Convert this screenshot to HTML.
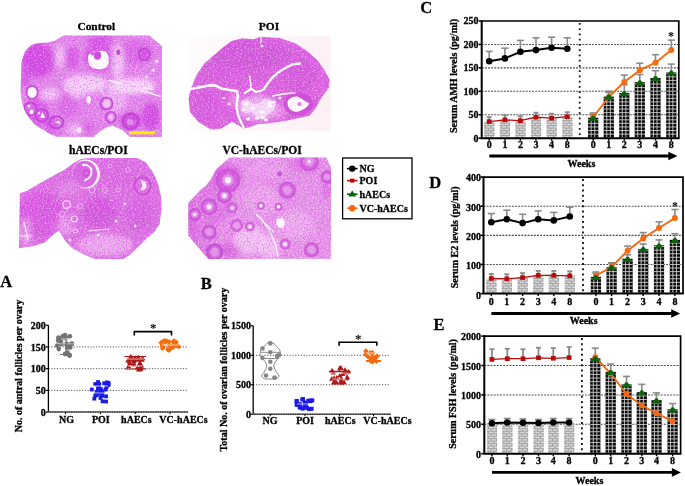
<!DOCTYPE html>
<html><head><meta charset="utf-8"><style>
html,body{margin:0;padding:0;background:#fff;}
svg{display:block}
text{font-family:'Liberation Serif',serif;font-weight:bold;fill:#000;stroke:#000;stroke-width:0.3px;paint-order:stroke}
</style></head><body>
<svg width="685" height="486" viewBox="0 0 685 486">
<rect width="685" height="486" fill="#fff"/>
<defs>
<filter id="tex" x="0" y="0" width="100%" height="100%" color-interpolation-filters="sRGB">
 <feTurbulence type="fractalNoise" baseFrequency="0.6" numOctaves="2" seed="3"/>
 <feColorMatrix type="matrix" values="0 0 0 0 1  0 0 0 0 0.88  0 0 0 0 0.98  4 0 0 0 -2.0" />
</filter>
<filter id="tex2" x="0" y="0" width="100%" height="100%" color-interpolation-filters="sRGB">
 <feTurbulence type="fractalNoise" baseFrequency="0.65" numOctaves="2" seed="9"/>
 <feColorMatrix type="matrix" values="0 0 0 0 0.8  0 0 0 0 0.1  0 0 0 0 0.76  4 0 0 0 -2.0" />
</filter>
<filter id="pinkshift" color-interpolation-filters="sRGB"><feColorMatrix type="matrix" values="0.95 0 0 0 0.05  0 0.85 0 0 0.13  0 0 0.62 0 0.38  0 0 0 1 0"/></filter>
<filter id="bl1"><feGaussianBlur stdDeviation="2.5"/></filter>
<filter id="bl2"><feGaussianBlur stdDeviation="1.2"/></filter>
<filter id="bl05"><feGaussianBlur stdDeviation="0.7"/></filter>

<clipPath id="cCtrl"><polygon points="21.5,62 22.5,59 24.8,52.2 27.5,48.5 30.4,46 33.5,44.2 37.2,43.2 47.4,42.6 54.2,40.9 57.5,39 59.9,37.5 62,36.2 64.4,35.5 149.3,35.5 161.9,46 161.9,137 130,137 127.3,134.8 122.8,130.2 112.6,125.7 107,126.9 100,131.5 93.4,137 56,136.8 48,133 44.6,130.5 38,127 33.5,123 28.5,117 25,111 22.5,104 21,97 20.6,90"/></clipPath>
<clipPath id="cPoi"><polygon points="188.6,98 191.7,86.8 196,75.7 204.7,63.3 214.6,54.7 223.2,47.3 231.9,41.1 241.7,38.6 254,39.3 260,36.7 279.7,38 295.7,43.6 306.9,51 316.7,59.6 324.1,69.5 329.5,79.4 329,87.4 321.7,97.3 315.5,108.4 309.3,115.8 292,119.5 285.9,120.7 267.3,123.5 258,124 250,127 243.8,128.5 238,125 231.9,122 220.7,128.8 210.9,129.4 198.5,122 190,112"/></clipPath>
<clipPath id="cHaec"><polygon points="19.9,193.2 27.3,190.7 39.7,183.3 52,176.5 64.4,169.8 73,163.6 80.4,159.3 89,158 137,158 145.6,162.3 153,172.2 157.9,183.3 161,196.9 161.6,210 160.9,213.4 159.6,224.1 154.2,232.1 146.2,238.8 138.2,246.8 130.1,254.8 123.4,258.9 95,258.9 84.6,254.8 72.5,248.2 64.5,240.1 59.1,230.8 53.8,234.1 44.4,242.8 32.4,246.2 19,248.2"/></clipPath>
<clipPath id="cVc"><polygon points="229.4,157.4 326.3,157.6 331,167.7 331,258.8 208.1,258.9 188.3,235.5 188.3,203.1 201,189.5 205.9,185.8 210.9,179.6 215.8,169.8"/></clipPath>
<pattern id="brick" patternUnits="userSpaceOnUse" width="6" height="5.2">
<rect width="6" height="5.2" fill="#bdbdbd"/>
<rect y="2.1" width="6" height="0.8" fill="#f2f2f2"/>
<rect y="4.7" width="6" height="0.8" fill="#f2f2f2"/>
<rect x="1" y="0" width="0.8" height="2.2" fill="#f2f2f2"/>
<rect x="4" y="2.6" width="0.8" height="2.2" fill="#f2f2f2"/>
</pattern>
<pattern id="grid" patternUnits="userSpaceOnUse" width="3.6" height="3.6">
<rect width="3.6" height="3.6" fill="#111"/>
<rect x="2.6" width="1" height="3.6" fill="#d8d8d8"/>
<rect y="2.6" width="3.6" height="1" fill="#d8d8d8"/>
</pattern>
</defs>
<linearGradient id="poibg" x1="0" y1="0" x2="1" y2="0"><stop offset="0" stop-color="#fdf4f7" stop-opacity="0.3"/><stop offset="1" stop-color="#fdf0f4"/></linearGradient>
<rect x="188" y="36" width="142.5" height="95" fill="url(#poibg)"/>
<g filter="url(#pinkshift)">
<g clip-path="url(#cCtrl)"><rect x="0" y="0" width="685" height="486" fill="#e078de"/><g filter="url(#bl1)"><ellipse cx="38" cy="60" rx="17" ry="17" fill="#d030d2" opacity="1.0"/><ellipse cx="26" cy="75" rx="5" ry="14" fill="#d236d4" opacity="0.8"/><ellipse cx="72.3" cy="57.9" rx="7" ry="12" fill="#d23cd4" opacity="0.8"/><ellipse cx="99" cy="57" rx="15" ry="15" fill="#d236d4" opacity="0.85"/><ellipse cx="100" cy="40" rx="14" ry="5" fill="#d236d4" opacity="0.8"/><ellipse cx="135" cy="52" rx="18" ry="12" fill="#d648d8" opacity="0.7"/><ellipse cx="144.3" cy="54.5" rx="6" ry="6" fill="#cc30ce" opacity="0.8"/><ellipse cx="151" cy="116.7" rx="9" ry="14" fill="#cc30ce" opacity="0.95"/><ellipse cx="130.7" cy="121.2" rx="10" ry="9" fill="#c82cca" opacity="0.95"/><ellipse cx="67.8" cy="106.5" rx="11" ry="11" fill="#d64ed8" opacity="0.7"/><ellipse cx="36" cy="112" rx="13" ry="14" fill="#d236d4" opacity="0.7"/><ellipse cx="52" cy="125" rx="9" ry="9" fill="#d236d4" opacity="0.7"/><ellipse cx="88" cy="128" rx="6" ry="6" fill="#d23cd4" opacity="0.7"/><ellipse cx="60" cy="56" rx="4" ry="12" fill="#f8d4f8" opacity="0.8"/><ellipse cx="118" cy="62" rx="6" ry="18" fill="#f8d6f8" opacity="0.8"/><ellipse cx="85" cy="84" rx="22" ry="9" fill="#fadcfa" opacity="0.9"/><ellipse cx="132" cy="86" rx="24" ry="8" fill="#fce6fc" opacity="0.9"/><ellipse cx="50" cy="94" rx="10" ry="6" fill="#f8d6f8" opacity="0.8"/><ellipse cx="78" cy="92" rx="8" ry="6" fill="#f8d6f8" opacity="0.8"/><ellipse cx="115" cy="100" rx="12" ry="12" fill="#f6ccf6" opacity="0.6"/><ellipse cx="75" cy="130" rx="7" ry="6" fill="#f8d8f8" opacity="0.7"/></g><rect x="0" y="0" width="685" height="486" filter="url(#tex)" opacity="0.45"/><rect x="0" y="0" width="685" height="486" filter="url(#tex2)" opacity="0.45"/><g filter="url(#bl05)"><path d="M88 56 L91.5 51.8 L95.5 51.6 L100.5 50.8 L106 51.5 L108.5 56 L108.7 63 L106 67.8 L100 69.5 L93 68.6 L89.2 65.5 L88 60Z" fill="#ffffff" opacity="0.98"/><ellipse cx="97.5" cy="55.5" rx="3.6" ry="4.2" fill="#c838c8" opacity="1.0"/><ellipse cx="92.5" cy="53.5" rx="2.2" ry="2" fill="#cc44cc" opacity="0.9"/><ellipse cx="32.1" cy="92.4" rx="5.6" ry="6.6" fill="none" stroke="#c030c0" stroke-width="1.5"/><ellipse cx="32.1" cy="92.4" rx="4.5" ry="5.5" fill="#ffffff" opacity="0.98"/><ellipse cx="30.4" cy="108.8" rx="6.3" ry="6.3" fill="none" stroke="#c22ec2" stroke-width="2"/><ellipse cx="31.6" cy="112" rx="2" ry="2.5" fill="#ffffff" opacity="0.9"/><ellipse cx="29" cy="106" rx="1.8" ry="1.6" fill="#f8e0f8" opacity="0.9"/><ellipse cx="41.8" cy="115.5" rx="6.3" ry="6.3" fill="none" stroke="#c22ec2" stroke-width="2"/><path d="M40 118 L42.5 112 L45 118Z" fill="#ffffff" opacity="0.95"/><ellipse cx="39" cy="113" rx="1.2" ry="1.5" fill="#f8e0f8" opacity="0.9"/><ellipse cx="56.5" cy="122.3" rx="6.8" ry="6" fill="none" stroke="#c22ec2" stroke-width="2"/><path d="M55 122.5 L59 120.5 L60 124 Z" fill="#ffffff" opacity="0.95"/><ellipse cx="106.4" cy="103.7" rx="6" ry="6" fill="none" stroke="#c030c0" stroke-width="1.8"/><ellipse cx="106.4" cy="103.7" rx="3.2" ry="3.2" fill="#f2c2f0" opacity="0.9"/><ellipse cx="110.9" cy="117.2" rx="5" ry="5.5" fill="none" stroke="#c030c0" stroke-width="1.6"/><ellipse cx="110.9" cy="117.2" rx="2.4" ry="2.6" fill="#f2c2f0" opacity="0.9"/><ellipse cx="130.7" cy="121.2" rx="8.2" ry="7.6" fill="none" stroke="#bf2cbf" stroke-width="2.2"/><ellipse cx="130" cy="122" rx="3.5" ry="3" fill="#e08ee0" opacity="0.8"/><ellipse cx="144.3" cy="54.5" rx="5.5" ry="5.8" fill="none" stroke="#bc2cbc" stroke-width="1.6"/><ellipse cx="88.7" cy="99.7" rx="2.2" ry="3.8" fill="#ffffff" opacity="0.95"/><ellipse cx="118.3" cy="52.2" rx="1.9" ry="2.8" fill="#b42cb4" opacity="0.95"/><ellipse cx="156.7" cy="61.3" rx="1.8" ry="1.8" fill="#ffffff" opacity="0.8"/><ellipse cx="153.3" cy="70.3" rx="1.5" ry="1.5" fill="#ffffff" opacity="0.8"/><ellipse cx="146.6" cy="77.1" rx="1.5" ry="1.5" fill="#ffffff" opacity="0.8"/><ellipse cx="79" cy="130" rx="2.5" ry="3" fill="#f8e4f8" opacity="0.9"/><path d="M109.2 80.5 L115 82 L121.7 83.9" fill="none" stroke="#fff" stroke-width="1.6" stroke-linecap="round" stroke-linejoin="round"/><path d="M140.9 90.7 L150 93 L160 96.3" fill="none" stroke="#fdeefd" stroke-width="1.4" stroke-linecap="round" stroke-linejoin="round"/><path d="M144.3 87.3 L153.3 89.5" fill="none" stroke="#fdeefd" stroke-width="1.2" stroke-linecap="round" stroke-linejoin="round"/><path d="M64 89 L70 92" fill="none" stroke="#fbe4fb" stroke-width="1" stroke-linecap="round" stroke-linejoin="round"/><path d="M100 88 L104 95" fill="none" stroke="#fbe4fb" stroke-width="1" stroke-linecap="round" stroke-linejoin="round"/></g></g>
<g clip-path="url(#cPoi)"><rect x="0" y="0" width="685" height="486" fill="#d850cc"/><g filter="url(#bl1)"><ellipse cx="250" cy="55" rx="40" ry="16" fill="#cc40c2" opacity="0.7"/><ellipse cx="205" cy="108" rx="14" ry="16" fill="#d044c6" opacity="0.55"/><ellipse cx="300" cy="75" rx="16" ry="16" fill="#cc40c2" opacity="0.6"/><ellipse cx="215" cy="70" rx="14" ry="12" fill="#d048c6" opacity="0.5"/><ellipse cx="258" cy="108" rx="20" ry="13" fill="#f0b8ec" opacity="0.85"/><ellipse cx="235" cy="100" rx="6" ry="8" fill="#eca4de" opacity="0.6"/><ellipse cx="278" cy="112" rx="8" ry="7" fill="#eeaee6" opacity="0.6"/></g><rect x="0" y="0" width="685" height="486" filter="url(#tex)" opacity="0.45"/><rect x="0" y="0" width="685" height="486" filter="url(#tex2)" opacity="0.5"/><g filter="url(#bl05)"><ellipse cx="298.4" cy="104.2" rx="14.5" ry="11.5" fill="#c630bc" opacity="0.75"/><path d="M287.6 101 Q291 96 297.5 96.5 L309.5 103.5 Q305 110.5 296 112 Q288 110.5 287.6 104Z" fill="#ffffff" opacity="0.97"/><ellipse cx="299.5" cy="104" rx="2.2" ry="2" fill="#d460ca" opacity="0.9"/><path d="M188.5 89.5 L196 88 L204 86.5 L210 85.3 L216 85.6 L222 88.8 L230 90 L236.6 91 L238 96 L237 101" fill="none" stroke="#fff" stroke-width="2.6" stroke-linecap="round" stroke-linejoin="round"/><path d="M237 101 L236.6 108 L238 114.8 L240 120 L243.8 127.7" fill="none" stroke="#fff" stroke-width="2.4" stroke-linecap="round" stroke-linejoin="round"/><path d="M251 88.8 L250.5 82 L249.6 75.9" fill="none" stroke="#fff" stroke-width="1.5" stroke-linecap="round" stroke-linejoin="round"/><path d="M245 93 L251 88.8 L256 92 L262 90.5 L264 88.8" fill="none" stroke="#fff" stroke-width="2.2" stroke-linecap="round" stroke-linejoin="round"/><path d="M264 88.8 L268 83 L272.6 77.3 L278 72.5 L284.2 68.6 L292.8 64.3 L300 63.5" fill="none" stroke="#fff" stroke-width="2.3" stroke-linecap="round" stroke-linejoin="round"/><path d="M272.6 96 L280 94.5 L288 93.5 L295 93.1" fill="none" stroke="#fff" stroke-width="1.4" stroke-linecap="round" stroke-linejoin="round"/><path d="M260.5 37 L261.5 40 L260.5 43" fill="none" stroke="#fff" stroke-width="1.3" stroke-linecap="round" stroke-linejoin="round"/><path d="M241 101 L248 100 L253 104 L259 103 L264 99 L271 100 L276 104 L274 110 L268 114 L263 119 L257 117 L252 112 L246 113 L242 108Z" fill="#fff" opacity="0.55"/><ellipse cx="246" cy="104" rx="2.5" ry="1.8" fill="#ffffff" opacity="0.95"/><ellipse cx="253" cy="108" rx="2.2" ry="1.6" fill="#ffffff" opacity="0.95"/><ellipse cx="262" cy="112" rx="2.8" ry="1.8" fill="#ffffff" opacity="0.95"/><ellipse cx="270" cy="106" rx="2.4" ry="1.6" fill="#ffffff" opacity="0.95"/><ellipse cx="257" cy="118" rx="2.2" ry="1.5" fill="#ffffff" opacity="0.9"/><ellipse cx="248" cy="119" rx="2.2" ry="1.6" fill="#ffffff" opacity="0.9"/><ellipse cx="266" cy="120" rx="2" ry="1.4" fill="#ffffff" opacity="0.9"/><ellipse cx="274" cy="102" rx="2" ry="1.5" fill="#ffffff" opacity="0.9"/><ellipse cx="243" cy="110" rx="1.8" ry="1.8" fill="#ffffff" opacity="0.9"/><ellipse cx="262.5" cy="117.6" rx="2.5" ry="1.6" fill="#ffffff" opacity="0.9"/><ellipse cx="280" cy="98" rx="1.6" ry="1.2" fill="#ffffff" opacity="0.85"/><ellipse cx="229" cy="104" rx="1.5" ry="1.2" fill="#ffffff" opacity="0.85"/><ellipse cx="224" cy="98" rx="1.4" ry="1.1" fill="#ffffff" opacity="0.85"/><ellipse cx="269.8" cy="103" rx="2.2" ry="1.7" fill="#ffffff" opacity="0.9"/><ellipse cx="262" cy="46" rx="1.5" ry="1.5" fill="#ffffff" opacity="0.8"/></g></g>
<g clip-path="url(#cHaec)"><rect x="0" y="0" width="685" height="486" fill="#da60d2"/><g filter="url(#bl1)"><ellipse cx="40" cy="215" rx="22" ry="24" fill="#d43ecc" opacity="0.7"/><ellipse cx="99.5" cy="213" rx="17" ry="15" fill="#cc36c4" opacity="0.7"/><ellipse cx="140" cy="215" rx="14" ry="16" fill="#d248cc" opacity="0.55"/><ellipse cx="120" cy="175" rx="18" ry="12" fill="#d450cc" opacity="0.45"/><ellipse cx="105" cy="245" rx="28" ry="11" fill="#f2b8ec" opacity="0.75"/><ellipse cx="65" cy="225" rx="8" ry="10" fill="#f2b8ec" opacity="0.55"/><ellipse cx="26" cy="232" rx="6" ry="14" fill="#f2b8ec" opacity="0.6"/><ellipse cx="70" cy="190" rx="12" ry="8" fill="#eca0e2" opacity="0.4"/></g><rect x="0" y="0" width="685" height="486" filter="url(#tex)" opacity="0.45"/><rect x="0" y="0" width="685" height="486" filter="url(#tex2)" opacity="0.5"/><g filter="url(#bl05)"><ellipse cx="86.4" cy="173.7" rx="12.5" ry="12.5" fill="#d04ccc" opacity="0.5"/><path d="M72.1 174 a13.9 14.6 0 1 0 27.8 0 a13.9 14.6 0 1 0 -27.8 0Z M72.2 174.2 a12.5 13.5 0 1 0 25.0 0 a12.5 13.5 0 1 0 -25.0 0Z" fill="#fff" fill-rule="evenodd" opacity="0.97"/><path d="M83 165 Q89 164 91.5 170 Q92.5 177 85 180.5" fill="none" stroke="#fff" stroke-width="1.8" stroke-linecap="round" stroke-linejoin="round"/><ellipse cx="86.2" cy="173.3" rx="3.6" ry="3.8" fill="#c438c0" opacity="0.85"/><ellipse cx="86.5" cy="173" rx="1.4" ry="1.4" fill="#e070dc" opacity="0.9"/><ellipse cx="142.5" cy="185.8" rx="8" ry="8.5" fill="none" stroke="#c838c0" stroke-width="2"/><path d="M140.5 180.5 Q146 180 146.5 185.5 Q146 191 140.5 190.5 Q143.5 185.5 140.5 180.5Z" fill="#fdf0fb" opacity="0.95"/><ellipse cx="66.6" cy="204.6" rx="3.8" ry="3.8" fill="none" stroke="#f6d4f0" stroke-width="1.3"/><ellipse cx="74.3" cy="219" rx="3" ry="3" fill="none" stroke="#f6d4f0" stroke-width="1.1"/><ellipse cx="75.4" cy="231" rx="2.5" ry="2" fill="none" stroke="#f6d4f0" stroke-width="1"/><ellipse cx="62" cy="214" rx="2.8" ry="2.8" fill="none" stroke="#eeb0ea" stroke-width="0.9"/><ellipse cx="80" cy="206" rx="2.5" ry="2.5" fill="none" stroke="#eeb0ea" stroke-width="0.9"/><ellipse cx="92" cy="190" rx="3" ry="3" fill="none" stroke="#eeb0ea" stroke-width="0.9"/><ellipse cx="105" cy="190" rx="2.5" ry="2.5" fill="none" stroke="#eeb0ea" stroke-width="0.9"/><ellipse cx="118" cy="190" rx="2.2" ry="2.2" fill="none" stroke="#eeb0ea" stroke-width="0.8"/><ellipse cx="128" cy="170" rx="2.5" ry="2.5" fill="none" stroke="#eeb0ea" stroke-width="0.8"/><ellipse cx="110" cy="166" rx="2" ry="2" fill="none" stroke="#eeb0ea" stroke-width="0.8"/><path d="M88 231 L109 229" fill="none" stroke="#fde8f9" stroke-width="1" stroke-linecap="round" stroke-linejoin="round"/><path d="M24 222 L28 240" fill="none" stroke="#fde8f9" stroke-width="1.2" stroke-linecap="round" stroke-linejoin="round"/><path d="M20 236 L30 236" fill="none" stroke="#fde8f9" stroke-width="1" stroke-linecap="round" stroke-linejoin="round"/><ellipse cx="116" cy="221" rx="1.5" ry="1.5" fill="#ffffff" opacity="0.8"/><ellipse cx="135" cy="226" rx="1.2" ry="1.8" fill="#ffffff" opacity="0.8"/><ellipse cx="125" cy="204" rx="1.3" ry="1.3" fill="#ffffff" opacity="0.8"/><ellipse cx="98" cy="235" rx="1.5" ry="1.2" fill="#ffffff" opacity="0.8"/><ellipse cx="70" cy="240" rx="1.5" ry="1.5" fill="#ffffff" opacity="0.8"/></g></g>
<g clip-path="url(#cVc)"><rect x="0" y="0" width="685" height="486" fill="#e48adc"/><g filter="url(#bl1)"><ellipse cx="192" cy="222" rx="6" ry="30" fill="#cc3cc0" opacity="0.6"/><ellipse cx="205" cy="252" rx="10" ry="6" fill="#cc3cc0" opacity="0.5"/><ellipse cx="270" cy="248" rx="10" ry="12" fill="#f6d6f4" opacity="0.7"/><ellipse cx="215" cy="195" rx="18" ry="30" fill="#d854d0" opacity="0.6"/><ellipse cx="228" cy="178" rx="14" ry="14" fill="#d040c8" opacity="0.7"/><ellipse cx="205" cy="235" rx="14" ry="16" fill="#d858d0" opacity="0.5"/><ellipse cx="230" cy="250" rx="12" ry="8" fill="#cc3cc0" opacity="0.6"/><ellipse cx="305" cy="165" rx="16" ry="8" fill="#d450cc" opacity="0.55"/><ellipse cx="327" cy="185" rx="6" ry="16" fill="#d450cc" opacity="0.5"/><ellipse cx="287" cy="190" rx="10" ry="9" fill="#d450cc" opacity="0.45"/><ellipse cx="262" cy="200" rx="18" ry="14" fill="#eea8e4" opacity="0.6"/><ellipse cx="250" cy="240" rx="16" ry="14" fill="#f8d4f2" opacity="0.7"/><ellipse cx="295" cy="225" rx="20" ry="14" fill="#f2b8ec" opacity="0.55"/><ellipse cx="265" cy="170" rx="20" ry="8" fill="#eda6e3" opacity="0.5"/></g><rect x="0" y="0" width="685" height="486" filter="url(#tex)" opacity="0.5"/><rect x="0" y="0" width="685" height="486" filter="url(#tex2)" opacity="0.45"/><g filter="url(#bl05)"><path d="M256.5 214.5 L262 220 L268 228 L272 236 L276 246 L278 256" fill="none" stroke="#fbeefb" stroke-width="1.4" stroke-linecap="round" stroke-linejoin="round"/><circle cx="227.9" cy="180.3" r="12" fill="#c838c0" opacity="0.4"/><circle cx="227.9" cy="180.3" r="10.9" fill="none" stroke="#c838c0" stroke-width="2" opacity="0.75"/><circle cx="227.9" cy="180.3" r="6.0" fill="#f2c6f0" opacity="0.45"/><circle cx="227.9" cy="180.3" r="3.2" fill="#fff" opacity="0.9"/><circle cx="224.5" cy="195.7" r="7.5" fill="#c838c0" opacity="0.4"/><circle cx="224.5" cy="195.7" r="6.4" fill="none" stroke="#c838c0" stroke-width="2" opacity="0.75"/><circle cx="224.5" cy="195.7" r="3.75" fill="#f2c6f0" opacity="0.45"/><circle cx="224.5" cy="195.7" r="2.2" fill="#fff" opacity="0.9"/><circle cx="209.1" cy="206.8" r="8.5" fill="#c838c0" opacity="0.4"/><circle cx="209.1" cy="206.8" r="7.4" fill="none" stroke="#c838c0" stroke-width="2" opacity="0.75"/><circle cx="209.1" cy="206.8" r="4.25" fill="#f2c6f0" opacity="0.45"/><circle cx="209.1" cy="206.8" r="2.4" fill="#fff" opacity="0.9"/><circle cx="194.8" cy="214.5" r="6.5" fill="#c838c0" opacity="0.4"/><circle cx="194.8" cy="214.5" r="5.4" fill="none" stroke="#c838c0" stroke-width="2" opacity="0.75"/><circle cx="194.8" cy="214.5" r="3.25" fill="#f2c6f0" opacity="0.45"/><circle cx="194.8" cy="214.5" r="1.5" fill="#fff" opacity="0.9"/><circle cx="209.1" cy="232.1" r="7.5" fill="#c838c0" opacity="0.4"/><circle cx="209.1" cy="232.1" r="6.4" fill="none" stroke="#c838c0" stroke-width="2" opacity="0.75"/><circle cx="209.1" cy="232.1" r="3.75" fill="#f2c6f0" opacity="0.45"/><circle cx="214.6" cy="252" r="8.5" fill="#bc2cb4" opacity="0.4"/><circle cx="214.6" cy="252" r="7.4" fill="none" stroke="#bc2cb4" stroke-width="2" opacity="0.75"/><circle cx="214.6" cy="252" r="4.25" fill="#f2c6f0" opacity="0.45"/><circle cx="232.3" cy="207.9" r="5.5" fill="#cc44c4" opacity="0.4"/><circle cx="232.3" cy="207.9" r="4.4" fill="none" stroke="#cc44c4" stroke-width="2" opacity="0.75"/><circle cx="232.3" cy="207.9" r="2.75" fill="#f2c6f0" opacity="0.45"/><circle cx="232.3" cy="207.9" r="1.2" fill="#fff" opacity="0.9"/><circle cx="260.9" cy="205.7" r="4" fill="#cc44c4" opacity="0.4"/><circle cx="260.9" cy="205.7" r="2.9" fill="none" stroke="#cc44c4" stroke-width="2" opacity="0.75"/><circle cx="260.9" cy="205.7" r="2.0" fill="#f2c6f0" opacity="0.45"/><circle cx="260.9" cy="205.7" r="1.8" fill="#fff" opacity="0.9"/><circle cx="278.5" cy="206.8" r="4" fill="#cc44c4" opacity="0.4"/><circle cx="278.5" cy="206.8" r="2.9" fill="none" stroke="#cc44c4" stroke-width="2" opacity="0.75"/><circle cx="278.5" cy="206.8" r="2.0" fill="#f2c6f0" opacity="0.45"/><circle cx="278.5" cy="206.8" r="1.8" fill="#fff" opacity="0.9"/><circle cx="287.3" cy="190.2" r="8.5" fill="#c838c0" opacity="0.4"/><circle cx="287.3" cy="190.2" r="7.4" fill="none" stroke="#c838c0" stroke-width="2" opacity="0.75"/><circle cx="287.3" cy="190.2" r="4.25" fill="#f2c6f0" opacity="0.45"/><circle cx="309.3" cy="161.6" r="9.5" fill="#c838c0" opacity="0.4"/><circle cx="309.3" cy="161.6" r="8.4" fill="none" stroke="#c838c0" stroke-width="2" opacity="0.75"/><circle cx="309.3" cy="161.6" r="4.75" fill="#f2c6f0" opacity="0.45"/><circle cx="309.3" cy="161.6" r="1.5" fill="#fff" opacity="0.9"/><circle cx="327" cy="177" r="6.5" fill="#c838c0" opacity="0.4"/><circle cx="327" cy="177" r="5.4" fill="none" stroke="#c838c0" stroke-width="2" opacity="0.75"/><circle cx="327" cy="177" r="3.25" fill="#f2c6f0" opacity="0.45"/><circle cx="249.9" cy="226.6" r="5" fill="#cc44c4" opacity="0.4"/><circle cx="249.9" cy="226.6" r="3.9" fill="none" stroke="#cc44c4" stroke-width="2" opacity="0.75"/><circle cx="249.9" cy="226.6" r="2.5" fill="#f2c6f0" opacity="0.45"/><circle cx="249.9" cy="226.6" r="1.5" fill="#fff" opacity="0.9"/><circle cx="285.1" cy="244.2" r="5.5" fill="#cc44c4" opacity="0.4"/><circle cx="285.1" cy="244.2" r="4.4" fill="none" stroke="#cc44c4" stroke-width="2" opacity="0.75"/><circle cx="285.1" cy="244.2" r="2.75" fill="#f2c6f0" opacity="0.45"/><circle cx="285.1" cy="244.2" r="1.8" fill="#fff" opacity="0.9"/><circle cx="311.5" cy="249.7" r="7.5" fill="#c838c0" opacity="0.4"/><circle cx="311.5" cy="249.7" r="6.4" fill="none" stroke="#c838c0" stroke-width="2" opacity="0.75"/><circle cx="311.5" cy="249.7" r="3.75" fill="#f2c6f0" opacity="0.45"/><circle cx="236.7" cy="225.5" r="6.5" fill="#cc44c4" opacity="0.4"/><circle cx="236.7" cy="225.5" r="5.4" fill="none" stroke="#cc44c4" stroke-width="2" opacity="0.75"/><circle cx="236.7" cy="225.5" r="3.25" fill="#f2c6f0" opacity="0.45"/><ellipse cx="279.6" cy="173.7" rx="2.5" ry="2.5" fill="#bc30b4" opacity="0.8"/><path d="M277 219 L283 218 L285 223 L283 228 L278 227 L276 223Z" fill="#ffffff" opacity="0.95"/><path d="M256.5 214.5 L266 224 L274 232" fill="none" stroke="#fdeef9" stroke-width="1.1" stroke-linecap="round" stroke-linejoin="round"/></g></g>
</g>
<rect x="129" y="131.3" width="26" height="3" fill="#f8f000"/>
<text x="96.3" y="30.2" font-size="11.4" text-anchor="middle" >Control</text>
<text x="269" y="30.2" font-size="11.4" text-anchor="middle" >POI</text>
<text x="98.4" y="154.3" font-size="11.5" text-anchor="middle" >hAECs/POI</text>
<text x="262" y="154.3" font-size="11.5" text-anchor="middle" >VC-hAECs/POI</text>
<rect x="342.6" y="158" width="69.4" height="60.8" fill="none" stroke="#000" stroke-width="1.3"/>
<line x1="347" y1="168.6" x2="357.5" y2="168.6" stroke="#000" stroke-width="1.6"/>
<circle cx="352.2" cy="168.6" r="3.2" fill="#000"/>
<text x="359.5" y="172" font-size="10" text-anchor="start" >NG</text>
<line x1="347" y1="180.6" x2="357.5" y2="180.6" stroke="#b80c0c" stroke-width="1.6"/>
<rect x="350" y="178.6" width="4.4" height="4" fill="#b80c0c"/>
<text x="359.5" y="184" font-size="10" text-anchor="start" >POI</text>
<line x1="347" y1="194.2" x2="357.5" y2="194.2" stroke="#0d620d" stroke-width="1.6"/>
<path d="M352.2 190.6 L356.2 196.6 L348.2 196.6Z" fill="#0d620d"/>
<text x="359.5" y="197.6" font-size="10" text-anchor="start" >hAECs</text>
<line x1="347" y1="208.2" x2="357.5" y2="208.2" stroke="#f26a12" stroke-width="1.6"/>
<circle cx="352.2" cy="208.2" r="3.2" fill="#f26a12"/>
<text x="359.5" y="211.6" font-size="10" text-anchor="start" >VC-hAECs</text>
<line x1="481.7" y1="114.76" x2="678.8" y2="114.76" stroke="#4a4a4a" stroke-width="1.05" stroke-dasharray="1.9 1.25"/>
<line x1="481.7" y1="91.32" x2="678.8" y2="91.32" stroke="#4a4a4a" stroke-width="1.05" stroke-dasharray="1.9 1.25"/>
<line x1="481.7" y1="67.88" x2="678.8" y2="67.88" stroke="#4a4a4a" stroke-width="1.05" stroke-dasharray="1.9 1.25"/>
<line x1="481.7" y1="44.44" x2="678.8" y2="44.44" stroke="#4a4a4a" stroke-width="1.05" stroke-dasharray="1.9 1.25"/>
<line x1="579.7" y1="23" x2="579.7" y2="138.2" stroke="#111" stroke-width="1.8" stroke-dasharray="1.8 3.45"/>
<rect x="484.1" y="121.6" width="10.2" height="16.6" fill="#dadada"/><path d="M484.1 138H494.3M485.7 138V135.53M491.1 138V135.53M484.1 135.53H494.3M488.4 135.53V133.06M493.8 135.53V133.06M484.1 133.06H494.3M485.7 133.06V130.59M491.1 133.06V130.59M484.1 130.59H494.3M488.4 130.59V128.12M493.8 130.59V128.12M484.1 128.12H494.3M485.7 128.12V125.65M491.1 128.12V125.65M484.1 125.65H494.3M488.4 125.65V123.18M493.8 125.65V123.18M484.1 123.18H494.3M485.7 123.18V121.6M491.1 123.18V121.6" stroke="#9a9a9a" stroke-width="0.85" fill="none"/>
<rect x="499.8" y="119.8" width="10.2" height="18.4" fill="#dadada"/><path d="M499.8 138H510M501.4 138V135.53M506.8 138V135.53M499.8 135.53H510M504.1 135.53V133.06M509.5 135.53V133.06M499.8 133.06H510M501.4 133.06V130.59M506.8 133.06V130.59M499.8 130.59H510M504.1 130.59V128.12M509.5 130.59V128.12M499.8 128.12H510M501.4 128.12V125.65M506.8 128.12V125.65M499.8 125.65H510M504.1 125.65V123.18M509.5 125.65V123.18M499.8 123.18H510M501.4 123.18V120.71M506.8 123.18V120.71M499.8 120.71H510M504.1 120.71V119.8M509.5 120.71V119.8" stroke="#9a9a9a" stroke-width="0.85" fill="none"/>
<rect x="515.3" y="120.7" width="10.2" height="17.5" fill="#dadada"/><path d="M515.3 138H525.5M516.9 138V135.53M522.3 138V135.53M515.3 135.53H525.5M519.6 135.53V133.06M525 135.53V133.06M515.3 133.06H525.5M516.9 133.06V130.59M522.3 133.06V130.59M515.3 130.59H525.5M519.6 130.59V128.12M525 130.59V128.12M515.3 128.12H525.5M516.9 128.12V125.65M522.3 128.12V125.65M515.3 125.65H525.5M519.6 125.65V123.18M525 125.65V123.18M515.3 123.18H525.5M516.9 123.18V120.71M522.3 123.18V120.71" stroke="#9a9a9a" stroke-width="0.85" fill="none"/>
<rect x="530.9" y="117.2" width="10.2" height="21" fill="#dadada"/><path d="M530.9 138H541.1M532.5 138V135.53M537.9 138V135.53M530.9 135.53H541.1M535.2 135.53V133.06M540.6 135.53V133.06M530.9 133.06H541.1M532.5 133.06V130.59M537.9 133.06V130.59M530.9 130.59H541.1M535.2 130.59V128.12M540.6 130.59V128.12M530.9 128.12H541.1M532.5 128.12V125.65M537.9 128.12V125.65M530.9 125.65H541.1M535.2 125.65V123.18M540.6 125.65V123.18M530.9 123.18H541.1M532.5 123.18V120.71M537.9 123.18V120.71M530.9 120.71H541.1M535.2 120.71V118.24M540.6 120.71V118.24M530.9 118.24H541.1M532.5 118.24V117.2M537.9 118.24V117.2" stroke="#9a9a9a" stroke-width="0.85" fill="none"/>
<rect x="546.5" y="118.2" width="10.2" height="20" fill="#dadada"/><path d="M546.5 138H556.7M548.1 138V135.53M553.5 138V135.53M546.5 135.53H556.7M550.8 135.53V133.06M556.2 135.53V133.06M546.5 133.06H556.7M548.1 133.06V130.59M553.5 133.06V130.59M546.5 130.59H556.7M550.8 130.59V128.12M556.2 130.59V128.12M546.5 128.12H556.7M548.1 128.12V125.65M553.5 128.12V125.65M546.5 125.65H556.7M550.8 125.65V123.18M556.2 125.65V123.18M546.5 123.18H556.7M548.1 123.18V120.71M553.5 123.18V120.71M546.5 120.71H556.7M550.8 120.71V118.24M556.2 120.71V118.24" stroke="#9a9a9a" stroke-width="0.85" fill="none"/>
<rect x="562.2" y="116.7" width="10.2" height="21.5" fill="#dadada"/><path d="M562.2 138H572.4M563.8 138V135.53M569.2 138V135.53M562.2 135.53H572.4M566.5 135.53V133.06M571.9 135.53V133.06M562.2 133.06H572.4M563.8 133.06V130.59M569.2 133.06V130.59M562.2 130.59H572.4M566.5 130.59V128.12M571.9 130.59V128.12M562.2 128.12H572.4M563.8 128.12V125.65M569.2 128.12V125.65M562.2 125.65H572.4M566.5 125.65V123.18M571.9 125.65V123.18M562.2 123.18H572.4M563.8 123.18V120.71M569.2 123.18V120.71M562.2 120.71H572.4M566.5 120.71V118.24M571.9 120.71V118.24M562.2 118.24H572.4M563.8 118.24V116.7M569.2 118.24V116.7" stroke="#9a9a9a" stroke-width="0.85" fill="none"/>
<rect x="588.1" y="117.7" width="10.2" height="20.5" fill="#080808"/><path d="M591.15 117.7V138.2M594.75 117.7V138.2M588.1 137.7H598.3M588.1 134.12H598.3M588.1 130.54H598.3M588.1 126.96H598.3M588.1 123.38H598.3M588.1 119.8H598.3" stroke="#cfcfcf" stroke-width="0.9" fill="none"/>
<rect x="603.7" y="96.6" width="10.2" height="41.6" fill="#080808"/><path d="M606.75 96.6V138.2M610.35 96.6V138.2M603.7 137.7H613.9M603.7 134.12H613.9M603.7 130.54H613.9M603.7 126.96H613.9M603.7 123.38H613.9M603.7 119.8H613.9M603.7 116.22H613.9M603.7 112.64H613.9M603.7 109.06H613.9M603.7 105.48H613.9M603.7 101.9H613.9M603.7 98.32H613.9" stroke="#cfcfcf" stroke-width="0.9" fill="none"/>
<rect x="619.2" y="93" width="10.2" height="45.2" fill="#080808"/><path d="M622.25 93V138.2M625.85 93V138.2M619.2 137.7H629.4M619.2 134.12H629.4M619.2 130.54H629.4M619.2 126.96H629.4M619.2 123.38H629.4M619.2 119.8H629.4M619.2 116.22H629.4M619.2 112.64H629.4M619.2 109.06H629.4M619.2 105.48H629.4M619.2 101.9H629.4M619.2 98.32H629.4M619.2 94.74H629.4" stroke="#cfcfcf" stroke-width="0.9" fill="none"/>
<rect x="634.7" y="82.2" width="10.2" height="56" fill="#080808"/><path d="M637.75 82.2V138.2M641.35 82.2V138.2M634.7 137.7H644.9M634.7 134.12H644.9M634.7 130.54H644.9M634.7 126.96H644.9M634.7 123.38H644.9M634.7 119.8H644.9M634.7 116.22H644.9M634.7 112.64H644.9M634.7 109.06H644.9M634.7 105.48H644.9M634.7 101.9H644.9M634.7 98.32H644.9M634.7 94.74H644.9M634.7 91.16H644.9M634.7 87.58H644.9M634.7 84H644.9" stroke="#cfcfcf" stroke-width="0.9" fill="none"/>
<rect x="650.4" y="78.1" width="10.2" height="60.1" fill="#080808"/><path d="M653.45 78.1V138.2M657.05 78.1V138.2M650.4 137.7H660.6M650.4 134.12H660.6M650.4 130.54H660.6M650.4 126.96H660.6M650.4 123.38H660.6M650.4 119.8H660.6M650.4 116.22H660.6M650.4 112.64H660.6M650.4 109.06H660.6M650.4 105.48H660.6M650.4 101.9H660.6M650.4 98.32H660.6M650.4 94.74H660.6M650.4 91.16H660.6M650.4 87.58H660.6M650.4 84H660.6M650.4 80.42H660.6" stroke="#cfcfcf" stroke-width="0.9" fill="none"/>
<rect x="666.2" y="72.4" width="10.2" height="65.8" fill="#080808"/><path d="M669.25 72.4V138.2M672.85 72.4V138.2M666.2 137.7H676.4M666.2 134.12H676.4M666.2 130.54H676.4M666.2 126.96H676.4M666.2 123.38H676.4M666.2 119.8H676.4M666.2 116.22H676.4M666.2 112.64H676.4M666.2 109.06H676.4M666.2 105.48H676.4M666.2 101.9H676.4M666.2 98.32H676.4M666.2 94.74H676.4M666.2 91.16H676.4M666.2 87.58H676.4M666.2 84H676.4M666.2 80.42H676.4M666.2 76.84H676.4M666.2 73.26H676.4" stroke="#cfcfcf" stroke-width="0.9" fill="none"/>
<line x1="489.2" y1="61.3" x2="489.2" y2="51.4" stroke="#8a8a8a" stroke-width="1.6"/>
<line x1="485.7" y1="51.4" x2="492.7" y2="51.4" stroke="#8a8a8a" stroke-width="1.6"/>
<line x1="504.9" y1="58.4" x2="504.9" y2="48.2" stroke="#8a8a8a" stroke-width="1.6"/>
<line x1="501.4" y1="48.2" x2="508.4" y2="48.2" stroke="#8a8a8a" stroke-width="1.6"/>
<line x1="520.4" y1="51.8" x2="520.4" y2="40.4" stroke="#8a8a8a" stroke-width="1.6"/>
<line x1="516.9" y1="40.4" x2="523.9" y2="40.4" stroke="#8a8a8a" stroke-width="1.6"/>
<line x1="536" y1="50.1" x2="536" y2="37.8" stroke="#8a8a8a" stroke-width="1.6"/>
<line x1="532.5" y1="37.8" x2="539.5" y2="37.8" stroke="#8a8a8a" stroke-width="1.6"/>
<line x1="551.6" y1="47.7" x2="551.6" y2="37.2" stroke="#8a8a8a" stroke-width="1.6"/>
<line x1="548.1" y1="37.2" x2="555.1" y2="37.2" stroke="#8a8a8a" stroke-width="1.6"/>
<line x1="567.3" y1="48.8" x2="567.3" y2="37.8" stroke="#8a8a8a" stroke-width="1.6"/>
<line x1="563.8" y1="37.8" x2="570.8" y2="37.8" stroke="#8a8a8a" stroke-width="1.6"/>
<line x1="489.2" y1="121.6" x2="489.2" y2="117.1" stroke="#8a8a8a" stroke-width="1.8"/>
<line x1="486.7" y1="117.1" x2="491.7" y2="117.1" stroke="#8a8a8a" stroke-width="1.8"/>
<line x1="504.9" y1="119.8" x2="504.9" y2="115.3" stroke="#8a8a8a" stroke-width="1.8"/>
<line x1="502.4" y1="115.3" x2="507.4" y2="115.3" stroke="#8a8a8a" stroke-width="1.8"/>
<line x1="520.4" y1="120.7" x2="520.4" y2="116.2" stroke="#8a8a8a" stroke-width="1.8"/>
<line x1="517.9" y1="116.2" x2="522.9" y2="116.2" stroke="#8a8a8a" stroke-width="1.8"/>
<line x1="536" y1="117.2" x2="536" y2="112.7" stroke="#8a8a8a" stroke-width="1.8"/>
<line x1="533.5" y1="112.7" x2="538.5" y2="112.7" stroke="#8a8a8a" stroke-width="1.8"/>
<line x1="551.6" y1="118.2" x2="551.6" y2="113.7" stroke="#8a8a8a" stroke-width="1.8"/>
<line x1="549.1" y1="113.7" x2="554.1" y2="113.7" stroke="#8a8a8a" stroke-width="1.8"/>
<line x1="567.3" y1="116.7" x2="567.3" y2="112.2" stroke="#8a8a8a" stroke-width="1.8"/>
<line x1="564.8" y1="112.2" x2="569.8" y2="112.2" stroke="#8a8a8a" stroke-width="1.8"/>
<line x1="593.2" y1="117.7" x2="593.2" y2="114.4" stroke="#8a8a8a" stroke-width="1.6"/>
<line x1="589.7" y1="114.4" x2="596.7" y2="114.4" stroke="#8a8a8a" stroke-width="1.6"/>
<line x1="608.8" y1="96.6" x2="608.8" y2="91.3" stroke="#8a8a8a" stroke-width="1.6"/>
<line x1="605.3" y1="91.3" x2="612.3" y2="91.3" stroke="#8a8a8a" stroke-width="1.6"/>
<line x1="624.3" y1="93" x2="624.3" y2="84.7" stroke="#8a8a8a" stroke-width="1.6"/>
<line x1="620.8" y1="84.7" x2="627.8" y2="84.7" stroke="#8a8a8a" stroke-width="1.6"/>
<line x1="639.8" y1="82.2" x2="639.8" y2="74.5" stroke="#8a8a8a" stroke-width="1.6"/>
<line x1="636.3" y1="74.5" x2="643.3" y2="74.5" stroke="#8a8a8a" stroke-width="1.6"/>
<line x1="655.5" y1="78.1" x2="655.5" y2="70.7" stroke="#8a8a8a" stroke-width="1.6"/>
<line x1="652" y1="70.7" x2="659" y2="70.7" stroke="#8a8a8a" stroke-width="1.6"/>
<line x1="671.3" y1="72.4" x2="671.3" y2="64.1" stroke="#8a8a8a" stroke-width="1.6"/>
<line x1="667.8" y1="64.1" x2="674.8" y2="64.1" stroke="#8a8a8a" stroke-width="1.6"/>
<line x1="593.2" y1="117" x2="593.2" y2="113" stroke="#8a8a8a" stroke-width="1.6"/>
<line x1="589.7" y1="113" x2="596.7" y2="113" stroke="#8a8a8a" stroke-width="1.6"/>
<line x1="608.8" y1="97" x2="608.8" y2="92.5" stroke="#8a8a8a" stroke-width="1.6"/>
<line x1="605.3" y1="92.5" x2="612.3" y2="92.5" stroke="#8a8a8a" stroke-width="1.6"/>
<line x1="624.3" y1="81.9" x2="624.3" y2="75.1" stroke="#8a8a8a" stroke-width="1.6"/>
<line x1="620.8" y1="75.1" x2="627.8" y2="75.1" stroke="#8a8a8a" stroke-width="1.6"/>
<line x1="639.8" y1="70.2" x2="639.8" y2="63.2" stroke="#8a8a8a" stroke-width="1.6"/>
<line x1="636.3" y1="63.2" x2="643.3" y2="63.2" stroke="#8a8a8a" stroke-width="1.6"/>
<line x1="655.5" y1="62.7" x2="655.5" y2="54.7" stroke="#8a8a8a" stroke-width="1.6"/>
<line x1="652" y1="54.7" x2="659" y2="54.7" stroke="#8a8a8a" stroke-width="1.6"/>
<line x1="671.3" y1="50" x2="671.3" y2="40.1" stroke="#8a8a8a" stroke-width="1.6"/>
<line x1="667.8" y1="40.1" x2="674.8" y2="40.1" stroke="#8a8a8a" stroke-width="1.6"/>
<polyline points="489.2,121.6 504.9,119.8 520.4,120.7 536,117.2 551.6,118.2 567.3,116.7" fill="none" stroke="#b80c0c" stroke-width="1.3" stroke-linejoin="round"/>
<polyline points="489.2,61.3 504.9,58.4 520.4,51.8 536,50.1 551.6,47.7 567.3,48.8" fill="none" stroke="#000" stroke-width="2" stroke-linejoin="round"/>
<circle cx="489.2" cy="61.3" r="3.3" fill="#000"/>
<circle cx="504.9" cy="58.4" r="3.3" fill="#000"/>
<circle cx="520.4" cy="51.8" r="3.3" fill="#000"/>
<circle cx="536" cy="50.1" r="3.3" fill="#000"/>
<circle cx="551.6" cy="47.7" r="3.3" fill="#000"/>
<circle cx="567.3" cy="48.8" r="3.3" fill="#000"/>
<rect x="486.8" y="119.3" width="4.8" height="4.6" fill="#b80c0c"/>
<rect x="502.5" y="117.5" width="4.8" height="4.6" fill="#b80c0c"/>
<rect x="518" y="118.4" width="4.8" height="4.6" fill="#b80c0c"/>
<rect x="533.6" y="114.9" width="4.8" height="4.6" fill="#b80c0c"/>
<rect x="549.2" y="115.9" width="4.8" height="4.6" fill="#b80c0c"/>
<rect x="564.9" y="114.4" width="4.8" height="4.6" fill="#b80c0c"/>
<polyline points="593.2,117 608.8,97 624.3,81.9 639.8,70.2 655.5,62.7 671.3,50" fill="none" stroke="#f26a12" stroke-width="1.9" stroke-linejoin="round"/>
<circle cx="593.2" cy="117" r="3" fill="#f26a12"/>
<circle cx="608.8" cy="97" r="3" fill="#f26a12"/>
<circle cx="624.3" cy="81.9" r="3" fill="#f26a12"/>
<circle cx="639.8" cy="70.2" r="3" fill="#f26a12"/>
<circle cx="655.5" cy="62.7" r="3" fill="#f26a12"/>
<circle cx="671.3" cy="50" r="3" fill="#f26a12"/>
<path d="M592.2 115.7 L594.2 115.7 L598 120.9 L588.4 120.9Z" fill="#0d620d"/>
<path d="M607.8 94.6 L609.8 94.6 L613.6 99.8 L604 99.8Z" fill="#0d620d"/>
<path d="M623.3 91 L625.3 91 L629.1 96.2 L619.5 96.2Z" fill="#0d620d"/>
<path d="M638.8 80.2 L640.8 80.2 L644.6 85.4 L635 85.4Z" fill="#0d620d"/>
<path d="M654.5 76.1 L656.5 76.1 L660.3 81.3 L650.7 81.3Z" fill="#0d620d"/>
<path d="M670.3 70.4 L672.3 70.4 L676.1 75.6 L666.5 75.6Z" fill="#0d620d"/>
<text x="671.1" y="39.9" font-size="12" text-anchor="middle" style="stroke-width:0">*</text>
<path d="M481.7 21 H678.8 V138.2" fill="none" stroke="#000" stroke-width="1.7"/>
<path d="M481.7 20.2 V138.2 H679.6" fill="none" stroke="#000" stroke-width="2"/>
<line x1="478.7" y1="138.2" x2="481.7" y2="138.2" stroke="#000" stroke-width="1.6"/>
<text x="478.5" y="141.6" font-size="10" text-anchor="end" >0</text>
<line x1="478.7" y1="114.76" x2="481.7" y2="114.76" stroke="#000" stroke-width="1.6"/>
<text x="478.5" y="118.16" font-size="10" text-anchor="end" >50</text>
<line x1="478.7" y1="91.32" x2="481.7" y2="91.32" stroke="#000" stroke-width="1.6"/>
<text x="478.5" y="94.72" font-size="10" text-anchor="end" >100</text>
<line x1="478.7" y1="67.88" x2="481.7" y2="67.88" stroke="#000" stroke-width="1.6"/>
<text x="478.5" y="71.28" font-size="10" text-anchor="end" >150</text>
<line x1="478.7" y1="44.44" x2="481.7" y2="44.44" stroke="#000" stroke-width="1.6"/>
<text x="478.5" y="47.84" font-size="10" text-anchor="end" >200</text>
<line x1="478.7" y1="21" x2="481.7" y2="21" stroke="#000" stroke-width="1.6"/>
<text x="478.5" y="24.4" font-size="10" text-anchor="end" >250</text>
<line x1="489.2" y1="138.2" x2="489.2" y2="140.7" stroke="#000" stroke-width="1.4"/>
<text x="489.2" y="147.6" font-size="10" text-anchor="middle" >0</text>
<line x1="504.9" y1="138.2" x2="504.9" y2="140.7" stroke="#000" stroke-width="1.4"/>
<text x="504.9" y="147.6" font-size="10" text-anchor="middle" >1</text>
<line x1="520.4" y1="138.2" x2="520.4" y2="140.7" stroke="#000" stroke-width="1.4"/>
<text x="520.4" y="147.6" font-size="10" text-anchor="middle" >2</text>
<line x1="536" y1="138.2" x2="536" y2="140.7" stroke="#000" stroke-width="1.4"/>
<text x="536" y="147.6" font-size="10" text-anchor="middle" >3</text>
<line x1="551.6" y1="138.2" x2="551.6" y2="140.7" stroke="#000" stroke-width="1.4"/>
<text x="551.6" y="147.6" font-size="10" text-anchor="middle" >4</text>
<line x1="567.3" y1="138.2" x2="567.3" y2="140.7" stroke="#000" stroke-width="1.4"/>
<text x="567.3" y="147.6" font-size="10" text-anchor="middle" >8</text>
<line x1="593.2" y1="138.2" x2="593.2" y2="140.7" stroke="#000" stroke-width="1.4"/>
<text x="593.2" y="147.6" font-size="10" text-anchor="middle" >0</text>
<line x1="608.8" y1="138.2" x2="608.8" y2="140.7" stroke="#000" stroke-width="1.4"/>
<text x="608.8" y="147.6" font-size="10" text-anchor="middle" >1</text>
<line x1="624.3" y1="138.2" x2="624.3" y2="140.7" stroke="#000" stroke-width="1.4"/>
<text x="624.3" y="147.6" font-size="10" text-anchor="middle" >2</text>
<line x1="639.8" y1="138.2" x2="639.8" y2="140.7" stroke="#000" stroke-width="1.4"/>
<text x="639.8" y="147.6" font-size="10" text-anchor="middle" >3</text>
<line x1="655.5" y1="138.2" x2="655.5" y2="140.7" stroke="#000" stroke-width="1.4"/>
<text x="655.5" y="147.6" font-size="10" text-anchor="middle" >4</text>
<line x1="671.3" y1="138.2" x2="671.3" y2="140.7" stroke="#000" stroke-width="1.4"/>
<text x="671.3" y="147.6" font-size="10" text-anchor="middle" >8</text>
<line x1="489.3" y1="156" x2="670.4" y2="156" stroke="#000" stroke-width="2.8"/>
<path d="M668.4 151.7 L677.4 156 L668.4 160.3Z" fill="#000"/>
<text x="567.5" y="166.6" font-size="10" text-anchor="start" >Weeks</text>
<text transform="translate(456.5,76) rotate(-90)" font-size="10" text-anchor="middle">Serum AMH levels (pg/ml)</text>
<text x="420.3" y="12.6" font-size="16.5" text-anchor="start" >C</text>
<line x1="483.5" y1="264.48" x2="683" y2="264.48" stroke="#4a4a4a" stroke-width="1.05" stroke-dasharray="1.9 1.25"/>
<line x1="483.5" y1="235.35" x2="683" y2="235.35" stroke="#4a4a4a" stroke-width="1.05" stroke-dasharray="1.9 1.25"/>
<line x1="483.5" y1="206.23" x2="683" y2="206.23" stroke="#4a4a4a" stroke-width="1.05" stroke-dasharray="1.9 1.25"/>
<line x1="583" y1="179.1" x2="583" y2="293.6" stroke="#111" stroke-width="1.8" stroke-dasharray="1.8 3.45"/>
<rect x="486.2" y="278.5" width="10.2" height="15.1" fill="#dadada"/><path d="M486.2 293.4H496.4M487.8 293.4V290.93M493.2 293.4V290.93M486.2 290.93H496.4M490.5 290.93V288.46M495.9 290.93V288.46M486.2 288.46H496.4M487.8 288.46V285.99M493.2 288.46V285.99M486.2 285.99H496.4M490.5 285.99V283.52M495.9 285.99V283.52M486.2 283.52H496.4M487.8 283.52V281.05M493.2 283.52V281.05M486.2 281.05H496.4M490.5 281.05V278.58M495.9 281.05V278.58" stroke="#9a9a9a" stroke-width="0.85" fill="none"/>
<rect x="501.7" y="278.8" width="10.2" height="14.8" fill="#dadada"/><path d="M501.7 293.4H511.9M503.3 293.4V290.93M508.7 293.4V290.93M501.7 290.93H511.9M506 290.93V288.46M511.4 290.93V288.46M501.7 288.46H511.9M503.3 288.46V285.99M508.7 288.46V285.99M501.7 285.99H511.9M506 285.99V283.52M511.4 285.99V283.52M501.7 283.52H511.9M503.3 283.52V281.05M508.7 283.52V281.05M501.7 281.05H511.9M506 281.05V278.8M511.4 281.05V278.8" stroke="#9a9a9a" stroke-width="0.85" fill="none"/>
<rect x="517.5" y="277.6" width="10.2" height="16" fill="#dadada"/><path d="M517.5 293.4H527.7M519.1 293.4V290.93M524.5 293.4V290.93M517.5 290.93H527.7M521.8 290.93V288.46M527.2 290.93V288.46M517.5 288.46H527.7M519.1 288.46V285.99M524.5 288.46V285.99M517.5 285.99H527.7M521.8 285.99V283.52M527.2 285.99V283.52M517.5 283.52H527.7M519.1 283.52V281.05M524.5 283.52V281.05M517.5 281.05H527.7M521.8 281.05V278.58M527.2 281.05V278.58M517.5 278.58H527.7M519.1 278.58V277.6M524.5 278.58V277.6" stroke="#9a9a9a" stroke-width="0.85" fill="none"/>
<rect x="533.1" y="275.4" width="10.2" height="18.2" fill="#dadada"/><path d="M533.1 293.4H543.3M534.7 293.4V290.93M540.1 293.4V290.93M533.1 290.93H543.3M537.4 290.93V288.46M542.8 290.93V288.46M533.1 288.46H543.3M534.7 288.46V285.99M540.1 288.46V285.99M533.1 285.99H543.3M537.4 285.99V283.52M542.8 285.99V283.52M533.1 283.52H543.3M534.7 283.52V281.05M540.1 283.52V281.05M533.1 281.05H543.3M537.4 281.05V278.58M542.8 281.05V278.58M533.1 278.58H543.3M534.7 278.58V276.11M540.1 278.58V276.11M533.1 276.11H543.3M537.4 276.11V275.4M542.8 276.11V275.4" stroke="#9a9a9a" stroke-width="0.85" fill="none"/>
<rect x="548.7" y="275.4" width="10.2" height="18.2" fill="#dadada"/><path d="M548.7 293.4H558.9M550.3 293.4V290.93M555.7 293.4V290.93M548.7 290.93H558.9M553 290.93V288.46M558.4 290.93V288.46M548.7 288.46H558.9M550.3 288.46V285.99M555.7 288.46V285.99M548.7 285.99H558.9M553 285.99V283.52M558.4 285.99V283.52M548.7 283.52H558.9M550.3 283.52V281.05M555.7 283.52V281.05M548.7 281.05H558.9M553 281.05V278.58M558.4 281.05V278.58M548.7 278.58H558.9M550.3 278.58V276.11M555.7 278.58V276.11M548.7 276.11H558.9M553 276.11V275.4M558.4 276.11V275.4" stroke="#9a9a9a" stroke-width="0.85" fill="none"/>
<rect x="564.7" y="275.8" width="10.2" height="17.8" fill="#dadada"/><path d="M564.7 293.4H574.9M566.3 293.4V290.93M571.7 293.4V290.93M564.7 290.93H574.9M569 290.93V288.46M574.4 290.93V288.46M564.7 288.46H574.9M566.3 288.46V285.99M571.7 288.46V285.99M564.7 285.99H574.9M569 285.99V283.52M574.4 285.99V283.52M564.7 283.52H574.9M566.3 283.52V281.05M571.7 283.52V281.05M564.7 281.05H574.9M569 281.05V278.58M574.4 281.05V278.58M564.7 278.58H574.9M566.3 278.58V276.11M571.7 278.58V276.11M564.7 276.11H574.9M569 276.11V275.8M574.4 276.11V275.8" stroke="#9a9a9a" stroke-width="0.85" fill="none"/>
<rect x="590.8" y="276.9" width="10.2" height="16.7" fill="#080808"/><path d="M593.85 276.9V293.6M597.45 276.9V293.6M590.8 293.1H601M590.8 289.52H601M590.8 285.94H601M590.8 282.36H601M590.8 278.78H601" stroke="#cfcfcf" stroke-width="0.9" fill="none"/>
<rect x="606.5" y="267" width="10.2" height="26.6" fill="#080808"/><path d="M609.55 267V293.6M613.15 267V293.6M606.5 293.1H616.7M606.5 289.52H616.7M606.5 285.94H616.7M606.5 282.36H616.7M606.5 278.78H616.7M606.5 275.2H616.7M606.5 271.62H616.7M606.5 268.04H616.7" stroke="#cfcfcf" stroke-width="0.9" fill="none"/>
<rect x="622.5" y="258.8" width="10.2" height="34.8" fill="#080808"/><path d="M625.55 258.8V293.6M629.15 258.8V293.6M622.5 293.1H632.7M622.5 289.52H632.7M622.5 285.94H632.7M622.5 282.36H632.7M622.5 278.78H632.7M622.5 275.2H632.7M622.5 271.62H632.7M622.5 268.04H632.7M622.5 264.46H632.7M622.5 260.88H632.7" stroke="#cfcfcf" stroke-width="0.9" fill="none"/>
<rect x="638.1" y="248.9" width="10.2" height="44.7" fill="#080808"/><path d="M641.15 248.9V293.6M644.75 248.9V293.6M638.1 293.1H648.3M638.1 289.52H648.3M638.1 285.94H648.3M638.1 282.36H648.3M638.1 278.78H648.3M638.1 275.2H648.3M638.1 271.62H648.3M638.1 268.04H648.3M638.1 264.46H648.3M638.1 260.88H648.3M638.1 257.3H648.3M638.1 253.72H648.3M638.1 250.14H648.3" stroke="#cfcfcf" stroke-width="0.9" fill="none"/>
<rect x="653.9" y="245.4" width="10.2" height="48.2" fill="#080808"/><path d="M656.95 245.4V293.6M660.55 245.4V293.6M653.9 293.1H664.1M653.9 289.52H664.1M653.9 285.94H664.1M653.9 282.36H664.1M653.9 278.78H664.1M653.9 275.2H664.1M653.9 271.62H664.1M653.9 268.04H664.1M653.9 264.46H664.1M653.9 260.88H664.1M653.9 257.3H664.1M653.9 253.72H664.1M653.9 250.14H664.1M653.9 246.56H664.1" stroke="#cfcfcf" stroke-width="0.9" fill="none"/>
<rect x="669.8" y="239.9" width="10.2" height="53.7" fill="#080808"/><path d="M672.85 239.9V293.6M676.45 239.9V293.6M669.8 293.1H680M669.8 289.52H680M669.8 285.94H680M669.8 282.36H680M669.8 278.78H680M669.8 275.2H680M669.8 271.62H680M669.8 268.04H680M669.8 264.46H680M669.8 260.88H680M669.8 257.3H680M669.8 253.72H680M669.8 250.14H680M669.8 246.56H680M669.8 242.98H680" stroke="#cfcfcf" stroke-width="0.9" fill="none"/>
<line x1="491.3" y1="222.2" x2="491.3" y2="213.6" stroke="#8a8a8a" stroke-width="1.6"/>
<line x1="487.8" y1="213.6" x2="494.8" y2="213.6" stroke="#8a8a8a" stroke-width="1.6"/>
<line x1="506.8" y1="219.2" x2="506.8" y2="210.2" stroke="#8a8a8a" stroke-width="1.6"/>
<line x1="503.3" y1="210.2" x2="510.3" y2="210.2" stroke="#8a8a8a" stroke-width="1.6"/>
<line x1="522.6" y1="223.1" x2="522.6" y2="214.3" stroke="#8a8a8a" stroke-width="1.6"/>
<line x1="519.1" y1="214.3" x2="526.1" y2="214.3" stroke="#8a8a8a" stroke-width="1.6"/>
<line x1="538.2" y1="219.2" x2="538.2" y2="210.9" stroke="#8a8a8a" stroke-width="1.6"/>
<line x1="534.7" y1="210.9" x2="541.7" y2="210.9" stroke="#8a8a8a" stroke-width="1.6"/>
<line x1="553.8" y1="220.4" x2="553.8" y2="212.4" stroke="#8a8a8a" stroke-width="1.6"/>
<line x1="550.3" y1="212.4" x2="557.3" y2="212.4" stroke="#8a8a8a" stroke-width="1.6"/>
<line x1="569.8" y1="216.5" x2="569.8" y2="207.2" stroke="#8a8a8a" stroke-width="1.6"/>
<line x1="566.3" y1="207.2" x2="573.3" y2="207.2" stroke="#8a8a8a" stroke-width="1.6"/>
<line x1="491.3" y1="278.5" x2="491.3" y2="274" stroke="#8a8a8a" stroke-width="1.8"/>
<line x1="488.8" y1="274" x2="493.8" y2="274" stroke="#8a8a8a" stroke-width="1.8"/>
<line x1="506.8" y1="278.8" x2="506.8" y2="274.3" stroke="#8a8a8a" stroke-width="1.8"/>
<line x1="504.3" y1="274.3" x2="509.3" y2="274.3" stroke="#8a8a8a" stroke-width="1.8"/>
<line x1="522.6" y1="277.6" x2="522.6" y2="273.1" stroke="#8a8a8a" stroke-width="1.8"/>
<line x1="520.1" y1="273.1" x2="525.1" y2="273.1" stroke="#8a8a8a" stroke-width="1.8"/>
<line x1="538.2" y1="275.4" x2="538.2" y2="270.9" stroke="#8a8a8a" stroke-width="1.8"/>
<line x1="535.7" y1="270.9" x2="540.7" y2="270.9" stroke="#8a8a8a" stroke-width="1.8"/>
<line x1="553.8" y1="275.4" x2="553.8" y2="270.9" stroke="#8a8a8a" stroke-width="1.8"/>
<line x1="551.3" y1="270.9" x2="556.3" y2="270.9" stroke="#8a8a8a" stroke-width="1.8"/>
<line x1="569.8" y1="275.8" x2="569.8" y2="271.3" stroke="#8a8a8a" stroke-width="1.8"/>
<line x1="567.3" y1="271.3" x2="572.3" y2="271.3" stroke="#8a8a8a" stroke-width="1.8"/>
<line x1="595.9" y1="276.9" x2="595.9" y2="273.2" stroke="#8a8a8a" stroke-width="1.6"/>
<line x1="592.4" y1="273.2" x2="599.4" y2="273.2" stroke="#8a8a8a" stroke-width="1.6"/>
<line x1="611.6" y1="267" x2="611.6" y2="262.9" stroke="#8a8a8a" stroke-width="1.6"/>
<line x1="608.1" y1="262.9" x2="615.1" y2="262.9" stroke="#8a8a8a" stroke-width="1.6"/>
<line x1="627.6" y1="258.8" x2="627.6" y2="254.7" stroke="#8a8a8a" stroke-width="1.6"/>
<line x1="624.1" y1="254.7" x2="631.1" y2="254.7" stroke="#8a8a8a" stroke-width="1.6"/>
<line x1="643.2" y1="248.9" x2="643.2" y2="244" stroke="#8a8a8a" stroke-width="1.6"/>
<line x1="639.7" y1="244" x2="646.7" y2="244" stroke="#8a8a8a" stroke-width="1.6"/>
<line x1="659" y1="245.4" x2="659" y2="239.9" stroke="#8a8a8a" stroke-width="1.6"/>
<line x1="655.5" y1="239.9" x2="662.5" y2="239.9" stroke="#8a8a8a" stroke-width="1.6"/>
<line x1="674.9" y1="239.9" x2="674.9" y2="233.7" stroke="#8a8a8a" stroke-width="1.6"/>
<line x1="671.4" y1="233.7" x2="678.4" y2="233.7" stroke="#8a8a8a" stroke-width="1.6"/>
<line x1="595.9" y1="275.6" x2="595.9" y2="272" stroke="#8a8a8a" stroke-width="1.6"/>
<line x1="592.4" y1="272" x2="599.4" y2="272" stroke="#8a8a8a" stroke-width="1.6"/>
<line x1="611.6" y1="267" x2="611.6" y2="263" stroke="#8a8a8a" stroke-width="1.6"/>
<line x1="608.1" y1="263" x2="615.1" y2="263" stroke="#8a8a8a" stroke-width="1.6"/>
<line x1="627.6" y1="250.7" x2="627.6" y2="246.1" stroke="#8a8a8a" stroke-width="1.6"/>
<line x1="624.1" y1="246.1" x2="631.1" y2="246.1" stroke="#8a8a8a" stroke-width="1.6"/>
<line x1="643.2" y1="238.4" x2="643.2" y2="232.6" stroke="#8a8a8a" stroke-width="1.6"/>
<line x1="639.7" y1="232.6" x2="646.7" y2="232.6" stroke="#8a8a8a" stroke-width="1.6"/>
<line x1="659" y1="228" x2="659" y2="221.9" stroke="#8a8a8a" stroke-width="1.6"/>
<line x1="655.5" y1="221.9" x2="662.5" y2="221.9" stroke="#8a8a8a" stroke-width="1.6"/>
<line x1="674.9" y1="218.1" x2="674.9" y2="209.5" stroke="#8a8a8a" stroke-width="1.6"/>
<line x1="671.4" y1="209.5" x2="678.4" y2="209.5" stroke="#8a8a8a" stroke-width="1.6"/>
<polyline points="491.3,278.5 506.8,278.8 522.6,277.6 538.2,275.4 553.8,275.4 569.8,275.8" fill="none" stroke="#b80c0c" stroke-width="1.3" stroke-linejoin="round"/>
<polyline points="491.3,222.2 506.8,219.2 522.6,223.1 538.2,219.2 553.8,220.4 569.8,216.5" fill="none" stroke="#000" stroke-width="2" stroke-linejoin="round"/>
<circle cx="491.3" cy="222.2" r="3.3" fill="#000"/>
<circle cx="506.8" cy="219.2" r="3.3" fill="#000"/>
<circle cx="522.6" cy="223.1" r="3.3" fill="#000"/>
<circle cx="538.2" cy="219.2" r="3.3" fill="#000"/>
<circle cx="553.8" cy="220.4" r="3.3" fill="#000"/>
<circle cx="569.8" cy="216.5" r="3.3" fill="#000"/>
<rect x="488.9" y="276.2" width="4.8" height="4.6" fill="#b80c0c"/>
<rect x="504.4" y="276.5" width="4.8" height="4.6" fill="#b80c0c"/>
<rect x="520.2" y="275.3" width="4.8" height="4.6" fill="#b80c0c"/>
<rect x="535.8" y="273.1" width="4.8" height="4.6" fill="#b80c0c"/>
<rect x="551.4" y="273.1" width="4.8" height="4.6" fill="#b80c0c"/>
<rect x="567.4" y="273.5" width="4.8" height="4.6" fill="#b80c0c"/>
<polyline points="595.9,275.6 611.6,267 627.6,250.7 643.2,238.4 659,228 674.9,218.1" fill="none" stroke="#f26a12" stroke-width="1.9" stroke-linejoin="round"/>
<circle cx="595.9" cy="275.6" r="3" fill="#f26a12"/>
<circle cx="611.6" cy="267" r="3" fill="#f26a12"/>
<circle cx="627.6" cy="250.7" r="3" fill="#f26a12"/>
<circle cx="643.2" cy="238.4" r="3" fill="#f26a12"/>
<circle cx="659" cy="228" r="3" fill="#f26a12"/>
<circle cx="674.9" cy="218.1" r="3" fill="#f26a12"/>
<path d="M594.9 274.9 L596.9 274.9 L600.7 280.1 L591.1 280.1Z" fill="#0d620d"/>
<path d="M610.6 265 L612.6 265 L616.4 270.2 L606.8 270.2Z" fill="#0d620d"/>
<path d="M626.6 256.8 L628.6 256.8 L632.4 262 L622.8 262Z" fill="#0d620d"/>
<path d="M642.2 246.9 L644.2 246.9 L648 252.1 L638.4 252.1Z" fill="#0d620d"/>
<path d="M658 243.4 L660 243.4 L663.8 248.6 L654.2 248.6Z" fill="#0d620d"/>
<path d="M673.9 237.9 L675.9 237.9 L679.7 243.1 L670.1 243.1Z" fill="#0d620d"/>
<text x="675" y="209.5" font-size="12" text-anchor="middle" style="stroke-width:0">*</text>
<path d="M483.5 177.1 H683 V293.6" fill="none" stroke="#000" stroke-width="1.7"/>
<path d="M483.5 176.3 V293.6 H683.8" fill="none" stroke="#000" stroke-width="2"/>
<line x1="480.5" y1="293.6" x2="483.5" y2="293.6" stroke="#000" stroke-width="1.6"/>
<text x="481.1" y="298.6" font-size="10" text-anchor="end" >0</text>
<line x1="480.5" y1="264.48" x2="483.5" y2="264.48" stroke="#000" stroke-width="1.6"/>
<text x="481.1" y="268.83" font-size="10" text-anchor="end" >100</text>
<line x1="480.5" y1="235.35" x2="483.5" y2="235.35" stroke="#000" stroke-width="1.6"/>
<text x="481.1" y="239.71" font-size="10" text-anchor="end" >200</text>
<line x1="480.5" y1="206.23" x2="483.5" y2="206.23" stroke="#000" stroke-width="1.6"/>
<text x="481.1" y="210.59" font-size="10" text-anchor="end" >300</text>
<line x1="480.5" y1="177.1" x2="483.5" y2="177.1" stroke="#000" stroke-width="1.6"/>
<text x="481.1" y="181.46" font-size="10" text-anchor="end" >400</text>
<line x1="491.3" y1="293.6" x2="491.3" y2="296.1" stroke="#000" stroke-width="1.4"/>
<text x="491.3" y="304.8" font-size="10" text-anchor="middle" >0</text>
<line x1="506.8" y1="293.6" x2="506.8" y2="296.1" stroke="#000" stroke-width="1.4"/>
<text x="506.8" y="304.8" font-size="10" text-anchor="middle" >1</text>
<line x1="522.6" y1="293.6" x2="522.6" y2="296.1" stroke="#000" stroke-width="1.4"/>
<text x="522.6" y="304.8" font-size="10" text-anchor="middle" >2</text>
<line x1="538.2" y1="293.6" x2="538.2" y2="296.1" stroke="#000" stroke-width="1.4"/>
<text x="538.2" y="304.8" font-size="10" text-anchor="middle" >3</text>
<line x1="553.8" y1="293.6" x2="553.8" y2="296.1" stroke="#000" stroke-width="1.4"/>
<text x="553.8" y="304.8" font-size="10" text-anchor="middle" >4</text>
<line x1="569.8" y1="293.6" x2="569.8" y2="296.1" stroke="#000" stroke-width="1.4"/>
<text x="569.8" y="304.8" font-size="10" text-anchor="middle" >8</text>
<line x1="595.9" y1="293.6" x2="595.9" y2="296.1" stroke="#000" stroke-width="1.4"/>
<text x="595.9" y="304.8" font-size="10" text-anchor="middle" >0</text>
<line x1="611.6" y1="293.6" x2="611.6" y2="296.1" stroke="#000" stroke-width="1.4"/>
<text x="611.6" y="304.8" font-size="10" text-anchor="middle" >1</text>
<line x1="627.6" y1="293.6" x2="627.6" y2="296.1" stroke="#000" stroke-width="1.4"/>
<text x="627.6" y="304.8" font-size="10" text-anchor="middle" >2</text>
<line x1="643.2" y1="293.6" x2="643.2" y2="296.1" stroke="#000" stroke-width="1.4"/>
<text x="643.2" y="304.8" font-size="10" text-anchor="middle" >3</text>
<line x1="659" y1="293.6" x2="659" y2="296.1" stroke="#000" stroke-width="1.4"/>
<text x="659" y="304.8" font-size="10" text-anchor="middle" >4</text>
<line x1="674.9" y1="293.6" x2="674.9" y2="296.1" stroke="#000" stroke-width="1.4"/>
<text x="674.9" y="304.8" font-size="10" text-anchor="middle" >8</text>
<line x1="491.4" y1="313.5" x2="673.2" y2="313.5" stroke="#000" stroke-width="2.8"/>
<path d="M671.2 309.2 L680.2 313.5 L671.2 317.8Z" fill="#000"/>
<text x="569.8" y="324" font-size="10" text-anchor="start" >Weeks</text>
<text transform="translate(457.9,237.4) rotate(-90)" font-size="10" text-anchor="middle">Serum E2 levels (pg/ml)</text>
<text x="429.3" y="187.8" font-size="16.5" text-anchor="start" >D</text>
<line x1="484.3" y1="424.3" x2="680.6" y2="424.3" stroke="#4a4a4a" stroke-width="1.05" stroke-dasharray="1.9 1.25"/>
<line x1="484.3" y1="394.9" x2="680.6" y2="394.9" stroke="#4a4a4a" stroke-width="1.05" stroke-dasharray="1.9 1.25"/>
<line x1="484.3" y1="365.5" x2="680.6" y2="365.5" stroke="#4a4a4a" stroke-width="1.05" stroke-dasharray="1.9 1.25"/>
<line x1="581.9" y1="338.1" x2="581.9" y2="453.7" stroke="#111" stroke-width="1.8" stroke-dasharray="1.8 3.45"/>
<rect x="486.8" y="423.3" width="10.2" height="30.4" fill="#dadada"/><path d="M486.8 453.5H497M488.4 453.5V451.03M493.8 453.5V451.03M486.8 451.03H497M491.1 451.03V448.56M496.5 451.03V448.56M486.8 448.56H497M488.4 448.56V446.09M493.8 448.56V446.09M486.8 446.09H497M491.1 446.09V443.62M496.5 446.09V443.62M486.8 443.62H497M488.4 443.62V441.15M493.8 443.62V441.15M486.8 441.15H497M491.1 441.15V438.68M496.5 441.15V438.68M486.8 438.68H497M488.4 438.68V436.21M493.8 438.68V436.21M486.8 436.21H497M491.1 436.21V433.74M496.5 436.21V433.74M486.8 433.74H497M488.4 433.74V431.27M493.8 433.74V431.27M486.8 431.27H497M491.1 431.27V428.8M496.5 431.27V428.8M486.8 428.8H497M488.4 428.8V426.33M493.8 428.8V426.33M486.8 426.33H497M491.1 426.33V423.86M496.5 426.33V423.86M486.8 423.86H497M488.4 423.86V423.3M493.8 423.86V423.3" stroke="#9a9a9a" stroke-width="0.85" fill="none"/>
<rect x="502.2" y="422.5" width="10.2" height="31.2" fill="#dadada"/><path d="M502.2 453.5H512.4M503.8 453.5V451.03M509.2 453.5V451.03M502.2 451.03H512.4M506.5 451.03V448.56M511.9 451.03V448.56M502.2 448.56H512.4M503.8 448.56V446.09M509.2 448.56V446.09M502.2 446.09H512.4M506.5 446.09V443.62M511.9 446.09V443.62M502.2 443.62H512.4M503.8 443.62V441.15M509.2 443.62V441.15M502.2 441.15H512.4M506.5 441.15V438.68M511.9 441.15V438.68M502.2 438.68H512.4M503.8 438.68V436.21M509.2 438.68V436.21M502.2 436.21H512.4M506.5 436.21V433.74M511.9 436.21V433.74M502.2 433.74H512.4M503.8 433.74V431.27M509.2 433.74V431.27M502.2 431.27H512.4M506.5 431.27V428.8M511.9 431.27V428.8M502.2 428.8H512.4M503.8 428.8V426.33M509.2 428.8V426.33M502.2 426.33H512.4M506.5 426.33V423.86M511.9 426.33V423.86M502.2 423.86H512.4M503.8 423.86V422.5M509.2 423.86V422.5" stroke="#9a9a9a" stroke-width="0.85" fill="none"/>
<rect x="517.9" y="422.8" width="10.2" height="30.9" fill="#dadada"/><path d="M517.9 453.5H528.1M519.5 453.5V451.03M524.9 453.5V451.03M517.9 451.03H528.1M522.2 451.03V448.56M527.6 451.03V448.56M517.9 448.56H528.1M519.5 448.56V446.09M524.9 448.56V446.09M517.9 446.09H528.1M522.2 446.09V443.62M527.6 446.09V443.62M517.9 443.62H528.1M519.5 443.62V441.15M524.9 443.62V441.15M517.9 441.15H528.1M522.2 441.15V438.68M527.6 441.15V438.68M517.9 438.68H528.1M519.5 438.68V436.21M524.9 438.68V436.21M517.9 436.21H528.1M522.2 436.21V433.74M527.6 436.21V433.74M517.9 433.74H528.1M519.5 433.74V431.27M524.9 433.74V431.27M517.9 431.27H528.1M522.2 431.27V428.8M527.6 431.27V428.8M517.9 428.8H528.1M519.5 428.8V426.33M524.9 428.8V426.33M517.9 426.33H528.1M522.2 426.33V423.86M527.6 426.33V423.86M517.9 423.86H528.1M519.5 423.86V422.8M524.9 423.86V422.8" stroke="#9a9a9a" stroke-width="0.85" fill="none"/>
<rect x="533.4" y="423" width="10.2" height="30.7" fill="#dadada"/><path d="M533.4 453.5H543.6M535 453.5V451.03M540.4 453.5V451.03M533.4 451.03H543.6M537.7 451.03V448.56M543.1 451.03V448.56M533.4 448.56H543.6M535 448.56V446.09M540.4 448.56V446.09M533.4 446.09H543.6M537.7 446.09V443.62M543.1 446.09V443.62M533.4 443.62H543.6M535 443.62V441.15M540.4 443.62V441.15M533.4 441.15H543.6M537.7 441.15V438.68M543.1 441.15V438.68M533.4 438.68H543.6M535 438.68V436.21M540.4 438.68V436.21M533.4 436.21H543.6M537.7 436.21V433.74M543.1 436.21V433.74M533.4 433.74H543.6M535 433.74V431.27M540.4 433.74V431.27M533.4 431.27H543.6M537.7 431.27V428.8M543.1 431.27V428.8M533.4 428.8H543.6M535 428.8V426.33M540.4 428.8V426.33M533.4 426.33H543.6M537.7 426.33V423.86M543.1 426.33V423.86M533.4 423.86H543.6M535 423.86V423M540.4 423.86V423" stroke="#9a9a9a" stroke-width="0.85" fill="none"/>
<rect x="548.2" y="422.5" width="10.2" height="31.2" fill="#dadada"/><path d="M548.2 453.5H558.4M549.8 453.5V451.03M555.2 453.5V451.03M548.2 451.03H558.4M552.5 451.03V448.56M557.9 451.03V448.56M548.2 448.56H558.4M549.8 448.56V446.09M555.2 448.56V446.09M548.2 446.09H558.4M552.5 446.09V443.62M557.9 446.09V443.62M548.2 443.62H558.4M549.8 443.62V441.15M555.2 443.62V441.15M548.2 441.15H558.4M552.5 441.15V438.68M557.9 441.15V438.68M548.2 438.68H558.4M549.8 438.68V436.21M555.2 438.68V436.21M548.2 436.21H558.4M552.5 436.21V433.74M557.9 436.21V433.74M548.2 433.74H558.4M549.8 433.74V431.27M555.2 433.74V431.27M548.2 431.27H558.4M552.5 431.27V428.8M557.9 431.27V428.8M548.2 428.8H558.4M549.8 428.8V426.33M555.2 428.8V426.33M548.2 426.33H558.4M552.5 426.33V423.86M557.9 426.33V423.86M548.2 423.86H558.4M549.8 423.86V422.5M555.2 423.86V422.5" stroke="#9a9a9a" stroke-width="0.85" fill="none"/>
<rect x="564" y="422.5" width="10.2" height="31.2" fill="#dadada"/><path d="M564 453.5H574.2M565.6 453.5V451.03M571 453.5V451.03M564 451.03H574.2M568.3 451.03V448.56M573.7 451.03V448.56M564 448.56H574.2M565.6 448.56V446.09M571 448.56V446.09M564 446.09H574.2M568.3 446.09V443.62M573.7 446.09V443.62M564 443.62H574.2M565.6 443.62V441.15M571 443.62V441.15M564 441.15H574.2M568.3 441.15V438.68M573.7 441.15V438.68M564 438.68H574.2M565.6 438.68V436.21M571 438.68V436.21M564 436.21H574.2M568.3 436.21V433.74M573.7 436.21V433.74M564 433.74H574.2M565.6 433.74V431.27M571 433.74V431.27M564 431.27H574.2M568.3 431.27V428.8M573.7 431.27V428.8M564 428.8H574.2M565.6 428.8V426.33M571 428.8V426.33M564 426.33H574.2M568.3 426.33V423.86M573.7 426.33V423.86M564 423.86H574.2M565.6 423.86V422.5M571 423.86V422.5" stroke="#9a9a9a" stroke-width="0.85" fill="none"/>
<rect x="590.2" y="358.3" width="10.2" height="95.4" fill="#080808"/><path d="M593.25 358.3V453.7M596.85 358.3V453.7M590.2 453.2H600.4M590.2 449.62H600.4M590.2 446.04H600.4M590.2 442.46H600.4M590.2 438.88H600.4M590.2 435.3H600.4M590.2 431.72H600.4M590.2 428.14H600.4M590.2 424.56H600.4M590.2 420.98H600.4M590.2 417.4H600.4M590.2 413.82H600.4M590.2 410.24H600.4M590.2 406.66H600.4M590.2 403.08H600.4M590.2 399.5H600.4M590.2 395.92H600.4M590.2 392.34H600.4M590.2 388.76H600.4M590.2 385.18H600.4M590.2 381.6H600.4M590.2 378.02H600.4M590.2 374.44H600.4M590.2 370.86H600.4M590.2 367.28H600.4M590.2 363.7H600.4M590.2 360.12H600.4" stroke="#cfcfcf" stroke-width="0.9" fill="none"/>
<rect x="605.6" y="371.9" width="10.2" height="81.8" fill="#080808"/><path d="M608.65 371.9V453.7M612.25 371.9V453.7M605.6 453.2H615.8M605.6 449.62H615.8M605.6 446.04H615.8M605.6 442.46H615.8M605.6 438.88H615.8M605.6 435.3H615.8M605.6 431.72H615.8M605.6 428.14H615.8M605.6 424.56H615.8M605.6 420.98H615.8M605.6 417.4H615.8M605.6 413.82H615.8M605.6 410.24H615.8M605.6 406.66H615.8M605.6 403.08H615.8M605.6 399.5H615.8M605.6 395.92H615.8M605.6 392.34H615.8M605.6 388.76H615.8M605.6 385.18H615.8M605.6 381.6H615.8M605.6 378.02H615.8M605.6 374.44H615.8" stroke="#cfcfcf" stroke-width="0.9" fill="none"/>
<rect x="621.4" y="384.3" width="10.2" height="69.4" fill="#080808"/><path d="M624.45 384.3V453.7M628.05 384.3V453.7M621.4 453.2H631.6M621.4 449.62H631.6M621.4 446.04H631.6M621.4 442.46H631.6M621.4 438.88H631.6M621.4 435.3H631.6M621.4 431.72H631.6M621.4 428.14H631.6M621.4 424.56H631.6M621.4 420.98H631.6M621.4 417.4H631.6M621.4 413.82H631.6M621.4 410.24H631.6M621.4 406.66H631.6M621.4 403.08H631.6M621.4 399.5H631.6M621.4 395.92H631.6M621.4 392.34H631.6M621.4 388.76H631.6M621.4 385.18H631.6" stroke="#cfcfcf" stroke-width="0.9" fill="none"/>
<rect x="636.7" y="392.2" width="10.2" height="61.5" fill="#080808"/><path d="M639.75 392.2V453.7M643.35 392.2V453.7M636.7 453.2H646.9M636.7 449.62H646.9M636.7 446.04H646.9M636.7 442.46H646.9M636.7 438.88H646.9M636.7 435.3H646.9M636.7 431.72H646.9M636.7 428.14H646.9M636.7 424.56H646.9M636.7 420.98H646.9M636.7 417.4H646.9M636.7 413.82H646.9M636.7 410.24H646.9M636.7 406.66H646.9M636.7 403.08H646.9M636.7 399.5H646.9M636.7 395.92H646.9" stroke="#cfcfcf" stroke-width="0.9" fill="none"/>
<rect x="651.4" y="400.2" width="10.2" height="53.5" fill="#080808"/><path d="M654.45 400.2V453.7M658.05 400.2V453.7M651.4 453.2H661.6M651.4 449.62H661.6M651.4 446.04H661.6M651.4 442.46H661.6M651.4 438.88H661.6M651.4 435.3H661.6M651.4 431.72H661.6M651.4 428.14H661.6M651.4 424.56H661.6M651.4 420.98H661.6M651.4 417.4H661.6M651.4 413.82H661.6M651.4 410.24H661.6M651.4 406.66H661.6M651.4 403.08H661.6" stroke="#cfcfcf" stroke-width="0.9" fill="none"/>
<rect x="667.5" y="409.2" width="10.2" height="44.5" fill="#080808"/><path d="M670.55 409.2V453.7M674.15 409.2V453.7M667.5 453.2H677.7M667.5 449.62H677.7M667.5 446.04H677.7M667.5 442.46H677.7M667.5 438.88H677.7M667.5 435.3H677.7M667.5 431.72H677.7M667.5 428.14H677.7M667.5 424.56H677.7M667.5 420.98H677.7M667.5 417.4H677.7M667.5 413.82H677.7M667.5 410.24H677.7" stroke="#cfcfcf" stroke-width="0.9" fill="none"/>
<line x1="491.9" y1="423.3" x2="491.9" y2="419.5" stroke="#8a8a8a" stroke-width="1.6"/>
<line x1="488.4" y1="419.5" x2="495.4" y2="419.5" stroke="#8a8a8a" stroke-width="1.6"/>
<line x1="507.3" y1="422.5" x2="507.3" y2="418.5" stroke="#8a8a8a" stroke-width="1.6"/>
<line x1="503.8" y1="418.5" x2="510.8" y2="418.5" stroke="#8a8a8a" stroke-width="1.6"/>
<line x1="523" y1="422.8" x2="523" y2="419" stroke="#8a8a8a" stroke-width="1.6"/>
<line x1="519.5" y1="419" x2="526.5" y2="419" stroke="#8a8a8a" stroke-width="1.6"/>
<line x1="538.5" y1="423" x2="538.5" y2="419.5" stroke="#8a8a8a" stroke-width="1.6"/>
<line x1="535" y1="419.5" x2="542" y2="419.5" stroke="#8a8a8a" stroke-width="1.6"/>
<line x1="553.3" y1="422.5" x2="553.3" y2="418.5" stroke="#8a8a8a" stroke-width="1.6"/>
<line x1="549.8" y1="418.5" x2="556.8" y2="418.5" stroke="#8a8a8a" stroke-width="1.6"/>
<line x1="569.1" y1="422.5" x2="569.1" y2="418.5" stroke="#8a8a8a" stroke-width="1.6"/>
<line x1="565.6" y1="418.5" x2="572.6" y2="418.5" stroke="#8a8a8a" stroke-width="1.6"/>
<line x1="491.9" y1="359.4" x2="491.9" y2="349.2" stroke="#8a8a8a" stroke-width="1.8"/>
<line x1="489.4" y1="349.2" x2="494.4" y2="349.2" stroke="#8a8a8a" stroke-width="1.8"/>
<line x1="507.3" y1="358.7" x2="507.3" y2="348.8" stroke="#8a8a8a" stroke-width="1.8"/>
<line x1="504.8" y1="348.8" x2="509.8" y2="348.8" stroke="#8a8a8a" stroke-width="1.8"/>
<line x1="523" y1="358.7" x2="523" y2="349.2" stroke="#8a8a8a" stroke-width="1.8"/>
<line x1="520.5" y1="349.2" x2="525.5" y2="349.2" stroke="#8a8a8a" stroke-width="1.8"/>
<line x1="538.5" y1="357.8" x2="538.5" y2="347.7" stroke="#8a8a8a" stroke-width="1.8"/>
<line x1="536" y1="347.7" x2="541" y2="347.7" stroke="#8a8a8a" stroke-width="1.8"/>
<line x1="553.3" y1="358.3" x2="553.3" y2="348.1" stroke="#8a8a8a" stroke-width="1.8"/>
<line x1="550.8" y1="348.1" x2="555.8" y2="348.1" stroke="#8a8a8a" stroke-width="1.8"/>
<line x1="569.1" y1="357.6" x2="569.1" y2="347" stroke="#8a8a8a" stroke-width="1.8"/>
<line x1="566.6" y1="347" x2="571.6" y2="347" stroke="#8a8a8a" stroke-width="1.8"/>
<line x1="595.3" y1="358.3" x2="595.3" y2="348.1" stroke="#8a8a8a" stroke-width="1.6"/>
<line x1="591.8" y1="348.1" x2="598.8" y2="348.1" stroke="#8a8a8a" stroke-width="1.6"/>
<line x1="610.7" y1="371.9" x2="610.7" y2="364" stroke="#8a8a8a" stroke-width="1.6"/>
<line x1="607.2" y1="364" x2="614.2" y2="364" stroke="#8a8a8a" stroke-width="1.6"/>
<line x1="626.5" y1="384.3" x2="626.5" y2="376.4" stroke="#8a8a8a" stroke-width="1.6"/>
<line x1="623" y1="376.4" x2="630" y2="376.4" stroke="#8a8a8a" stroke-width="1.6"/>
<line x1="641.8" y1="392.2" x2="641.8" y2="384.3" stroke="#8a8a8a" stroke-width="1.6"/>
<line x1="638.3" y1="384.3" x2="645.3" y2="384.3" stroke="#8a8a8a" stroke-width="1.6"/>
<line x1="656.5" y1="400.2" x2="656.5" y2="392.9" stroke="#8a8a8a" stroke-width="1.6"/>
<line x1="653" y1="392.9" x2="660" y2="392.9" stroke="#8a8a8a" stroke-width="1.6"/>
<line x1="672.6" y1="409.2" x2="672.6" y2="403.6" stroke="#8a8a8a" stroke-width="1.6"/>
<line x1="669.1" y1="403.6" x2="676.1" y2="403.6" stroke="#8a8a8a" stroke-width="1.6"/>
<polyline points="491.9,359.4 507.3,358.7 523,358.7 538.5,357.8 553.3,358.3 569.1,357.6" fill="none" stroke="#b80c0c" stroke-width="1.3" stroke-linejoin="round"/>
<polyline points="491.9,423.3 507.3,422.5 523,422.8 538.5,423 553.3,422.5 569.1,422.5" fill="none" stroke="#000" stroke-width="2" stroke-linejoin="round"/>
<circle cx="491.9" cy="423.3" r="3.3" fill="#000"/>
<circle cx="507.3" cy="422.5" r="3.3" fill="#000"/>
<circle cx="523" cy="422.8" r="3.3" fill="#000"/>
<circle cx="538.5" cy="423" r="3.3" fill="#000"/>
<circle cx="553.3" cy="422.5" r="3.3" fill="#000"/>
<circle cx="569.1" cy="422.5" r="3.3" fill="#000"/>
<rect x="489.5" y="357.1" width="4.8" height="4.6" fill="#b80c0c"/>
<rect x="504.9" y="356.4" width="4.8" height="4.6" fill="#b80c0c"/>
<rect x="520.6" y="356.4" width="4.8" height="4.6" fill="#b80c0c"/>
<rect x="536.1" y="355.5" width="4.8" height="4.6" fill="#b80c0c"/>
<rect x="550.9" y="356" width="4.8" height="4.6" fill="#b80c0c"/>
<rect x="566.7" y="355.3" width="4.8" height="4.6" fill="#b80c0c"/>
<polyline points="595.3,357.2 610.7,373.5 626.5,394 641.8,405.4 656.5,413.3 672.6,421.2" fill="none" stroke="#f26a12" stroke-width="1.9" stroke-linejoin="round"/>
<circle cx="595.3" cy="357.2" r="3" fill="#f26a12"/>
<circle cx="610.7" cy="373.5" r="3" fill="#f26a12"/>
<circle cx="626.5" cy="394" r="3" fill="#f26a12"/>
<circle cx="641.8" cy="405.4" r="3" fill="#f26a12"/>
<circle cx="656.5" cy="413.3" r="3" fill="#f26a12"/>
<circle cx="672.6" cy="421.2" r="3" fill="#f26a12"/>
<path d="M594.3 356.3 L596.3 356.3 L600.1 361.5 L590.5 361.5Z" fill="#0d620d"/>
<path d="M609.7 369.9 L611.7 369.9 L615.5 375.1 L605.9 375.1Z" fill="#0d620d"/>
<path d="M625.5 382.3 L627.5 382.3 L631.3 387.5 L621.7 387.5Z" fill="#0d620d"/>
<path d="M640.8 390.2 L642.8 390.2 L646.6 395.4 L637 395.4Z" fill="#0d620d"/>
<path d="M655.5 398.2 L657.5 398.2 L661.3 403.4 L651.7 403.4Z" fill="#0d620d"/>
<path d="M671.6 407.2 L673.6 407.2 L677.4 412.4 L667.8 412.4Z" fill="#0d620d"/>
<path d="M484.3 336.1 H680.6 V453.7" fill="none" stroke="#000" stroke-width="1.7"/>
<path d="M484.3 335.3 V453.7 H681.4" fill="none" stroke="#000" stroke-width="2"/>
<line x1="481.3" y1="453.7" x2="484.3" y2="453.7" stroke="#000" stroke-width="1.6"/>
<text x="481.1" y="458.1" font-size="10" text-anchor="end" >0</text>
<line x1="481.3" y1="424.3" x2="484.3" y2="424.3" stroke="#000" stroke-width="1.6"/>
<text x="481.1" y="428.3" font-size="10" text-anchor="end" >500</text>
<line x1="481.3" y1="394.9" x2="484.3" y2="394.9" stroke="#000" stroke-width="1.6"/>
<text x="481.1" y="398.9" font-size="10" text-anchor="end" >1000</text>
<line x1="481.3" y1="365.5" x2="484.3" y2="365.5" stroke="#000" stroke-width="1.6"/>
<text x="481.1" y="369.5" font-size="10" text-anchor="end" >1500</text>
<line x1="481.3" y1="336.1" x2="484.3" y2="336.1" stroke="#000" stroke-width="1.6"/>
<text x="481.1" y="340.1" font-size="10" text-anchor="end" >2000</text>
<line x1="491.9" y1="453.7" x2="491.9" y2="456.2" stroke="#000" stroke-width="1.4"/>
<text x="491.9" y="463.8" font-size="10" text-anchor="middle" >0</text>
<line x1="507.3" y1="453.7" x2="507.3" y2="456.2" stroke="#000" stroke-width="1.4"/>
<text x="507.3" y="463.8" font-size="10" text-anchor="middle" >1</text>
<line x1="523" y1="453.7" x2="523" y2="456.2" stroke="#000" stroke-width="1.4"/>
<text x="523" y="463.8" font-size="10" text-anchor="middle" >2</text>
<line x1="538.5" y1="453.7" x2="538.5" y2="456.2" stroke="#000" stroke-width="1.4"/>
<text x="538.5" y="463.8" font-size="10" text-anchor="middle" >3</text>
<line x1="553.3" y1="453.7" x2="553.3" y2="456.2" stroke="#000" stroke-width="1.4"/>
<text x="553.3" y="463.8" font-size="10" text-anchor="middle" >4</text>
<line x1="569.1" y1="453.7" x2="569.1" y2="456.2" stroke="#000" stroke-width="1.4"/>
<text x="569.1" y="463.8" font-size="10" text-anchor="middle" >8</text>
<line x1="595.3" y1="453.7" x2="595.3" y2="456.2" stroke="#000" stroke-width="1.4"/>
<text x="595.3" y="463.8" font-size="10" text-anchor="middle" >0</text>
<line x1="610.7" y1="453.7" x2="610.7" y2="456.2" stroke="#000" stroke-width="1.4"/>
<text x="610.7" y="463.8" font-size="10" text-anchor="middle" >1</text>
<line x1="626.5" y1="453.7" x2="626.5" y2="456.2" stroke="#000" stroke-width="1.4"/>
<text x="626.5" y="463.8" font-size="10" text-anchor="middle" >2</text>
<line x1="641.8" y1="453.7" x2="641.8" y2="456.2" stroke="#000" stroke-width="1.4"/>
<text x="641.8" y="463.8" font-size="10" text-anchor="middle" >3</text>
<line x1="656.5" y1="453.7" x2="656.5" y2="456.2" stroke="#000" stroke-width="1.4"/>
<text x="656.5" y="463.8" font-size="10" text-anchor="middle" >4</text>
<line x1="672.6" y1="453.7" x2="672.6" y2="456.2" stroke="#000" stroke-width="1.4"/>
<text x="672.6" y="463.8" font-size="10" text-anchor="middle" >8</text>
<line x1="492" y1="472.4" x2="673.9" y2="472.4" stroke="#000" stroke-width="2.8"/>
<path d="M671.9 468.1 L680.9 472.4 L671.9 476.7Z" fill="#000"/>
<text x="575.5" y="484" font-size="10" text-anchor="start" >Weeks</text>
<text transform="translate(456.4,394) rotate(-90)" font-size="10" text-anchor="middle">Serum FSH levels (pg/ml)</text>
<text x="433.6" y="330.2" font-size="16.5" text-anchor="start" >E</text>
<line x1="48.4" y1="390.38" x2="187" y2="390.38" stroke="#444" stroke-width="0.9" stroke-dasharray="1.2 1.6"/>
<line x1="48.4" y1="368.65" x2="187" y2="368.65" stroke="#444" stroke-width="0.9" stroke-dasharray="1.2 1.6"/>
<line x1="48.4" y1="346.93" x2="187" y2="346.93" stroke="#444" stroke-width="0.9" stroke-dasharray="1.2 1.6"/>
<line x1="48.4" y1="325.2" x2="48.4" y2="412.1" stroke="#000" stroke-width="1.3"/>
<line x1="48.4" y1="412.1" x2="188" y2="412.1" stroke="#222" stroke-width="1.5"/>
<line x1="48.4" y1="412.1" x2="188" y2="412.1" stroke="#fff" stroke-width="0.6" stroke-dasharray="1 1.4"/>
<line x1="45.9" y1="412.1" x2="48.4" y2="412.1" stroke="#000" stroke-width="1.2"/>
<text x="45.8" y="415.7" font-size="10" text-anchor="end" >0</text>
<line x1="45.9" y1="390.38" x2="48.4" y2="390.38" stroke="#000" stroke-width="1.2"/>
<text x="45.8" y="393.98" font-size="10" text-anchor="end" >50</text>
<line x1="45.9" y1="368.65" x2="48.4" y2="368.65" stroke="#000" stroke-width="1.2"/>
<text x="45.8" y="372.25" font-size="10" text-anchor="end" >100</text>
<line x1="45.9" y1="346.93" x2="48.4" y2="346.93" stroke="#000" stroke-width="1.2"/>
<text x="45.8" y="350.53" font-size="10" text-anchor="end" >150</text>
<line x1="45.9" y1="325.2" x2="48.4" y2="325.2" stroke="#000" stroke-width="1.2"/>
<text x="45.8" y="328.8" font-size="10" text-anchor="end" >200</text>
<line x1="65.5" y1="412.1" x2="65.5" y2="414.1" stroke="#000" stroke-width="1"/>
<line x1="100.5" y1="412.1" x2="100.5" y2="414.1" stroke="#000" stroke-width="1"/>
<line x1="135.3" y1="412.1" x2="135.3" y2="414.1" stroke="#000" stroke-width="1"/>
<line x1="170" y1="412.1" x2="170" y2="414.1" stroke="#000" stroke-width="1"/>
<text x="66.5" y="422.5" font-size="10" text-anchor="middle" >NG</text>
<text x="100.8" y="422.5" font-size="10" text-anchor="middle" >POI</text>
<text x="136.4" y="422.5" font-size="10" text-anchor="middle" >hAECs</text>
<text x="183.5" y="422.5" font-size="10" text-anchor="middle" >VC-hAECs</text>
<text transform="translate(22.3,366) rotate(-90)" font-size="10" text-anchor="middle">No. of antral follicles per ovary</text>
<text x="0.3" y="286.7" font-size="16.5" text-anchor="start" >A</text>
<circle cx="66.61" cy="343.99" r="2.4" fill="#727272"/><circle cx="65.2" cy="353.98" r="2.4" fill="#727272"/><circle cx="67.13" cy="345.17" r="2.4" fill="#727272"/><circle cx="65.68" cy="338.33" r="2.4" fill="#727272"/><circle cx="70.28" cy="347.75" r="2.4" fill="#727272"/><circle cx="62.78" cy="336.41" r="2.4" fill="#727272"/><circle cx="69.78" cy="336.34" r="2.4" fill="#727272"/><circle cx="58.88" cy="349.09" r="2.4" fill="#727272"/><circle cx="69.44" cy="355.2" r="2.4" fill="#727272"/><circle cx="67.31" cy="348.26" r="2.4" fill="#727272"/><circle cx="58.46" cy="337.75" r="2.4" fill="#727272"/><circle cx="57.29" cy="345.6" r="2.4" fill="#727272"/><circle cx="61.61" cy="338.44" r="2.4" fill="#727272"/><circle cx="65.03" cy="335.06" r="2.4" fill="#727272"/><circle cx="71.88" cy="343.74" r="2.4" fill="#727272"/><circle cx="68.12" cy="345.4" r="2.4" fill="#727272"/><circle cx="68.53" cy="345" r="2.4" fill="#727272"/><circle cx="61.36" cy="344.1" r="2.4" fill="#727272"/><circle cx="69.57" cy="355.53" r="2.4" fill="#727272"/><circle cx="67.3" cy="352.2" r="2.4" fill="#727272"/><circle cx="60.71" cy="341.09" r="2.4" fill="#727272"/><circle cx="58.12" cy="340.54" r="2.4" fill="#727272"/><line x1="58" y1="344" x2="74" y2="344" stroke="#fff" stroke-width="0.8" opacity="0.85"/><line x1="60" y1="350" x2="72" y2="350" stroke="#fff" stroke-width="0.8" opacity="0.85"/><line x1="61" y1="339" x2="70" y2="339" stroke="#fff" stroke-width="0.8" opacity="0.85"/>
<path d="M58 345 L74 345 M60 354.5 L72 354.5 M66 340 L66 354" stroke="#727272" stroke-width="1.1" fill="none"/>
<rect x="100.57" y="389.39" width="3.8" height="3.8" fill="#1a1ae8"/><rect x="94.53" y="393.22" width="3.8" height="3.8" fill="#1a1ae8"/><rect x="96.13" y="380.14" width="3.8" height="3.8" fill="#1a1ae8"/><rect x="104.59" y="385.39" width="3.8" height="3.8" fill="#1a1ae8"/><rect x="99.78" y="393.7" width="3.8" height="3.8" fill="#1a1ae8"/><rect x="100.21" y="391.06" width="3.8" height="3.8" fill="#1a1ae8"/><rect x="97.42" y="382.82" width="3.8" height="3.8" fill="#1a1ae8"/><rect x="106.61" y="383.16" width="3.8" height="3.8" fill="#1a1ae8"/><rect x="104.89" y="381.09" width="3.8" height="3.8" fill="#1a1ae8"/><rect x="102.29" y="381.41" width="3.8" height="3.8" fill="#1a1ae8"/><rect x="96.8" y="386.65" width="3.8" height="3.8" fill="#1a1ae8"/><rect x="92.44" y="396.73" width="3.8" height="3.8" fill="#1a1ae8"/><rect x="106.79" y="381.13" width="3.8" height="3.8" fill="#1a1ae8"/><rect x="94.74" y="390.08" width="3.8" height="3.8" fill="#1a1ae8"/><rect x="104.15" y="399.62" width="3.8" height="3.8" fill="#1a1ae8"/><rect x="97.08" y="382.17" width="3.8" height="3.8" fill="#1a1ae8"/><rect x="94.9" y="382.62" width="3.8" height="3.8" fill="#1a1ae8"/><rect x="94.96" y="392.32" width="3.8" height="3.8" fill="#1a1ae8"/><rect x="93.38" y="393.83" width="3.8" height="3.8" fill="#1a1ae8"/><rect x="104.83" y="383.34" width="3.8" height="3.8" fill="#1a1ae8"/><rect x="97.11" y="387.91" width="3.8" height="3.8" fill="#1a1ae8"/><rect x="98.36" y="391.82" width="3.8" height="3.8" fill="#1a1ae8"/><rect x="89.91" y="387.6" width="3.8" height="3.8" fill="#1a1ae8"/><rect x="104.15" y="394.42" width="3.8" height="3.8" fill="#1a1ae8"/><rect x="100.65" y="399.41" width="3.8" height="3.8" fill="#1a1ae8"/><rect x="96.04" y="387.03" width="3.8" height="3.8" fill="#1a1ae8"/><rect x="100.61" y="393.69" width="3.8" height="3.8" fill="#1a1ae8"/><rect x="93.37" y="382.19" width="3.8" height="3.8" fill="#1a1ae8"/><rect x="98.81" y="387.17" width="3.8" height="3.8" fill="#1a1ae8"/><rect x="98.6" y="396.09" width="3.8" height="3.8" fill="#1a1ae8"/><rect x="104.97" y="380.48" width="3.8" height="3.8" fill="#1a1ae8"/><rect x="98.91" y="388.51" width="3.8" height="3.8" fill="#1a1ae8"/><rect x="97.17" y="384.35" width="3.8" height="3.8" fill="#1a1ae8"/><rect x="103.63" y="387.67" width="3.8" height="3.8" fill="#1a1ae8"/><line x1="93" y1="386" x2="108" y2="386" stroke="#fff" stroke-width="0.8" opacity="0.85"/><line x1="95" y1="393" x2="104" y2="393" stroke="#fff" stroke-width="0.8" opacity="0.85"/>
<path d="M138.94 356.99 L141.57 361.71 L136.32 361.71Z" fill="#b01818"/><path d="M141.51 362.79 L144.13 367.51 L138.88 367.51Z" fill="#b01818"/><path d="M130 355.99 L132.63 360.71 L127.38 360.71Z" fill="#b01818"/><path d="M129.9 355.46 L132.52 360.19 L127.27 360.19Z" fill="#b01818"/><path d="M128.6 363.47 L131.23 368.19 L125.98 368.19Z" fill="#b01818"/><path d="M130.29 360.7 L132.92 365.43 L127.67 365.43Z" fill="#b01818"/><path d="M133.96 357.47 L136.58 362.2 L131.33 362.2Z" fill="#b01818"/><path d="M137.34 364.88 L139.96 369.61 L134.71 369.61Z" fill="#b01818"/><path d="M130.89 353.65 L133.52 358.38 L128.27 358.38Z" fill="#b01818"/><path d="M142.6 355.46 L145.22 360.18 L139.97 360.18Z" fill="#b01818"/><path d="M141 364.5 L143.62 369.22 L138.37 369.22Z" fill="#b01818"/><path d="M139.89 364.73 L142.51 369.45 L137.26 369.45Z" fill="#b01818"/><path d="M140.54 366.4 L143.17 371.13 L137.92 371.13Z" fill="#b01818"/><path d="M142.18 356.96 L144.8 361.68 L139.55 361.68Z" fill="#b01818"/><path d="M139.86 360.09 L142.49 364.82 L137.24 364.82Z" fill="#b01818"/><path d="M134.09 361.15 L136.71 365.87 L131.46 365.87Z" fill="#b01818"/><path d="M133.97 358.42 L136.59 363.15 L131.34 363.15Z" fill="#b01818"/><path d="M127.87 357.73 L130.49 362.46 L125.24 362.46Z" fill="#b01818"/><path d="M140.87 364.63 L143.5 369.36 L138.25 369.36Z" fill="#b01818"/><path d="M138.6 366.9 L141.22 371.62 L135.97 371.62Z" fill="#b01818"/><path d="M139.6 361.01 L142.22 365.74 L136.97 365.74Z" fill="#b01818"/><path d="M138.78 355.29 L141.4 360.02 L136.15 360.02Z" fill="#b01818"/><path d="M129.39 359.5 L132.01 364.23 L126.76 364.23Z" fill="#b01818"/><path d="M135.75 356.22 L138.37 360.94 L133.12 360.94Z" fill="#b01818"/><path d="M134.5 356.91 L137.13 361.64 L131.88 361.64Z" fill="#b01818"/><path d="M133.5 361.71 L136.13 366.44 L130.88 366.44Z" fill="#b01818"/><path d="M135.12 355.24 L137.75 359.96 L132.5 359.96Z" fill="#b01818"/><path d="M130.1 356.67 L132.73 361.39 L127.48 361.39Z" fill="#b01818"/><path d="M132.67 356.11 L135.3 360.83 L130.05 360.83Z" fill="#b01818"/><path d="M138.27 354.45 L140.9 359.18 L135.65 359.18Z" fill="#b01818"/><line x1="127" y1="359" x2="144" y2="359" stroke="#fff" stroke-width="0.8" opacity="0.85"/><line x1="128" y1="366" x2="143" y2="366" stroke="#fff" stroke-width="0.8" opacity="0.85"/>
<path d="M124.5 356.5 L146 356.5 M125 369 L146 369" stroke="#b01818" stroke-width="1" fill="none"/>
<path d="M174.1 338.31 L176.62 340.83 L174.1 343.35 L171.58 340.83Z" fill="#f26c10"/><path d="M178.74 344.16 L181.26 346.68 L178.74 349.2 L176.22 346.68Z" fill="#f26c10"/><path d="M165.39 340.07 L167.91 342.59 L165.39 345.11 L162.87 342.59Z" fill="#f26c10"/><path d="M173.24 345.04 L175.76 347.56 L173.24 350.08 L170.72 347.56Z" fill="#f26c10"/><path d="M173.85 340.41 L176.37 342.93 L173.85 345.45 L171.33 342.93Z" fill="#f26c10"/><path d="M175.76 341.42 L178.28 343.94 L175.76 346.46 L173.24 343.94Z" fill="#f26c10"/><path d="M164.86 338.43 L167.38 340.95 L164.86 343.47 L162.34 340.95Z" fill="#f26c10"/><path d="M167.68 346.84 L170.2 349.36 L167.68 351.88 L165.16 349.36Z" fill="#f26c10"/><path d="M176.19 339.96 L178.71 342.48 L176.19 345 L173.67 342.48Z" fill="#f26c10"/><path d="M163.39 343.94 L165.91 346.46 L163.39 348.98 L160.87 346.46Z" fill="#f26c10"/><path d="M173.42 343.08 L175.94 345.6 L173.42 348.12 L170.9 345.6Z" fill="#f26c10"/><path d="M173.15 338.93 L175.67 341.45 L173.15 343.97 L170.63 341.45Z" fill="#f26c10"/><path d="M167.05 338.48 L169.57 341 L167.05 343.52 L164.53 341Z" fill="#f26c10"/><path d="M164.52 338.05 L167.04 340.57 L164.52 343.09 L162 340.57Z" fill="#f26c10"/><path d="M168.57 347.66 L171.09 350.18 L168.57 352.7 L166.05 350.18Z" fill="#f26c10"/><path d="M169.17 347.8 L171.69 350.32 L169.17 352.84 L166.65 350.32Z" fill="#f26c10"/><path d="M177.47 343.68 L179.99 346.2 L177.47 348.72 L174.95 346.2Z" fill="#f26c10"/><path d="M162.7 344.54 L165.22 347.06 L162.7 349.58 L160.18 347.06Z" fill="#f26c10"/><path d="M172.82 343.49 L175.34 346.01 L172.82 348.53 L170.3 346.01Z" fill="#f26c10"/><path d="M162.31 339.11 L164.83 341.63 L162.31 344.15 L159.79 341.63Z" fill="#f26c10"/><path d="M170.45 346.56 L172.97 349.08 L170.45 351.6 L167.93 349.08Z" fill="#f26c10"/><path d="M169.28 339.24 L171.8 341.76 L169.28 344.28 L166.76 341.76Z" fill="#f26c10"/><path d="M176.04 339.5 L178.56 342.02 L176.04 344.54 L173.52 342.02Z" fill="#f26c10"/><path d="M162.33 342.54 L164.85 345.06 L162.33 347.58 L159.81 345.06Z" fill="#f26c10"/><path d="M162.56 345.95 L165.08 348.47 L162.56 350.99 L160.04 348.47Z" fill="#f26c10"/><path d="M160.89 340.17 L163.41 342.69 L160.89 345.21 L158.37 342.69Z" fill="#f26c10"/><path d="M162.8 345.11 L165.32 347.63 L162.8 350.15 L160.28 347.63Z" fill="#f26c10"/><path d="M162.17 342.81 L164.69 345.33 L162.17 347.85 L159.65 345.33Z" fill="#f26c10"/><path d="M173.88 342.32 L176.4 344.84 L173.88 347.36 L171.36 344.84Z" fill="#f26c10"/><path d="M169.32 342.9 L171.84 345.42 L169.32 347.94 L166.8 345.42Z" fill="#f26c10"/><path d="M168.95 342.37 L171.47 344.89 L168.95 347.41 L166.43 344.89Z" fill="#f26c10"/><path d="M162.28 343.56 L164.8 346.08 L162.28 348.6 L159.76 346.08Z" fill="#f26c10"/><line x1="162" y1="345" x2="178" y2="345" stroke="#fff" stroke-width="0.8" opacity="0.85"/>
<path d="M134.3 335.4 V331.6 H171.5 V335.4" fill="none" stroke="#000" stroke-width="1.6"/>
<text x="153.2" y="332.3" font-size="13" text-anchor="middle" style="stroke-width:0">*</text>
<line x1="253.2" y1="384.73" x2="390" y2="384.73" stroke="#444" stroke-width="0.9" stroke-dasharray="1.2 1.6"/>
<line x1="253.2" y1="355.27" x2="390" y2="355.27" stroke="#444" stroke-width="0.9" stroke-dasharray="1.2 1.6"/>
<line x1="253.2" y1="325.8" x2="253.2" y2="414.2" stroke="#000" stroke-width="1.3"/>
<line x1="253.2" y1="414.2" x2="391" y2="414.2" stroke="#222" stroke-width="1.5"/>
<line x1="253.2" y1="414.2" x2="391" y2="414.2" stroke="#fff" stroke-width="0.6" stroke-dasharray="1 1.4"/>
<line x1="250.7" y1="414.2" x2="253.2" y2="414.2" stroke="#000" stroke-width="1.2"/>
<text x="251.1" y="417.8" font-size="10" text-anchor="end" >0</text>
<line x1="250.7" y1="384.73" x2="253.2" y2="384.73" stroke="#000" stroke-width="1.2"/>
<text x="251.1" y="388.33" font-size="10" text-anchor="end" >500</text>
<line x1="250.7" y1="355.27" x2="253.2" y2="355.27" stroke="#000" stroke-width="1.2"/>
<text x="251.1" y="358.87" font-size="10" text-anchor="end" >1000</text>
<line x1="250.7" y1="325.8" x2="253.2" y2="325.8" stroke="#000" stroke-width="1.2"/>
<text x="251.1" y="329.4" font-size="10" text-anchor="end" >1500</text>
<line x1="270.3" y1="414.2" x2="270.3" y2="416.2" stroke="#000" stroke-width="1"/>
<line x1="305" y1="414.2" x2="305" y2="416.2" stroke="#000" stroke-width="1"/>
<line x1="339.5" y1="414.2" x2="339.5" y2="416.2" stroke="#000" stroke-width="1"/>
<line x1="373.5" y1="414.2" x2="373.5" y2="416.2" stroke="#000" stroke-width="1"/>
<text x="270.1" y="423.6" font-size="10" text-anchor="middle" >NG</text>
<text x="305.1" y="423.6" font-size="10" text-anchor="middle" >POI</text>
<text x="340.3" y="423.6" font-size="10" text-anchor="middle" >hAECs</text>
<text x="387.4" y="423.6" font-size="10" text-anchor="middle" >VC-hAECs</text>
<text transform="translate(227,369.6) rotate(-90)" font-size="10" text-anchor="middle">Total No. of ovarian follicles per ovary</text>
<text x="200.8" y="289.2" font-size="16.5" text-anchor="start" >B</text>
<path d="M269.3 341.6 L265.3 345 L260.8 350 L259.8 355 L262.3 358 L265.3 362 L266.8 365 L266.3 368 L264.3 372 L261.3 376 L264.3 379 L276.3 379 L279.3 376 L276.3 372 L274.3 368 L273.8 365 L275.3 362 L278.3 358 L280.8 355 L279.8 350 L275.3 345 L271.3 341.6Z" fill="none" stroke="#8a8a8a" stroke-width="1" stroke-linejoin="round"/>
<line x1="261" y1="352.3" x2="280" y2="352.3" stroke="#8a8a8a" stroke-width="1"/><line x1="262" y1="358.5" x2="279" y2="358.5" stroke="#8a8a8a" stroke-width="1"/>
<circle cx="270.3" cy="343.4" r="2.3" fill="#858585"/>
<circle cx="262.5" cy="348.5" r="2.3" fill="#858585"/>
<circle cx="270.3" cy="352.2" r="2.3" fill="#858585"/>
<circle cx="279" cy="355" r="2.3" fill="#858585"/>
<circle cx="262.5" cy="358" r="2.3" fill="#858585"/>
<circle cx="270.3" cy="361.8" r="2.3" fill="#858585"/>
<circle cx="270.3" cy="368.8" r="2.3" fill="#858585"/>
<circle cx="266" cy="375.5" r="2.3" fill="#858585"/>
<circle cx="274.5" cy="377.6" r="2.3" fill="#858585"/>
<circle cx="277" cy="356" r="2.3" fill="#858585"/>
<rect x="306.33" y="398.75" width="4" height="4" fill="#1a1ae8"/><rect x="302.6" y="403.45" width="4" height="4" fill="#1a1ae8"/><rect x="308.33" y="399.26" width="4" height="4" fill="#1a1ae8"/><rect x="303.23" y="405.18" width="4" height="4" fill="#1a1ae8"/><rect x="297.93" y="402.15" width="4" height="4" fill="#1a1ae8"/><rect x="301.02" y="397.13" width="4" height="4" fill="#1a1ae8"/><rect x="294.73" y="402.95" width="4" height="4" fill="#1a1ae8"/><rect x="298.1" y="405.04" width="4" height="4" fill="#1a1ae8"/><rect x="294.56" y="399.43" width="4" height="4" fill="#1a1ae8"/><rect x="306.96" y="407.08" width="4" height="4" fill="#1a1ae8"/><rect x="305.04" y="405.85" width="4" height="4" fill="#1a1ae8"/><rect x="300.3" y="397.44" width="4" height="4" fill="#1a1ae8"/><rect x="295.62" y="402.08" width="4" height="4" fill="#1a1ae8"/><rect x="300.77" y="406.62" width="4" height="4" fill="#1a1ae8"/><rect x="308.52" y="398.65" width="4" height="4" fill="#1a1ae8"/><rect x="310.27" y="398.35" width="4" height="4" fill="#1a1ae8"/><rect x="304" y="401.63" width="4" height="4" fill="#1a1ae8"/><rect x="302.71" y="400.53" width="4" height="4" fill="#1a1ae8"/><rect x="294.75" y="398.97" width="4" height="4" fill="#1a1ae8"/><rect x="298.31" y="405.76" width="4" height="4" fill="#1a1ae8"/><rect x="297.63" y="404.9" width="4" height="4" fill="#1a1ae8"/><rect x="309.63" y="406.79" width="4" height="4" fill="#1a1ae8"/><line x1="297" y1="404" x2="312" y2="404" stroke="#fff" stroke-width="0.8" opacity="0.85"/>
<path d="M333.6 379.84 L336.23 384.57 L330.98 384.57Z" fill="#b01818"/><path d="M340.99 365.22 L343.62 369.95 L338.37 369.95Z" fill="#b01818"/><path d="M332.04 367.74 L334.67 372.46 L329.42 372.46Z" fill="#b01818"/><path d="M336.83 375.04 L339.46 379.77 L334.21 379.77Z" fill="#b01818"/><path d="M334.92 378.77 L337.55 383.49 L332.3 383.49Z" fill="#b01818"/><path d="M336.55 379.86 L339.17 384.59 L333.92 384.59Z" fill="#b01818"/><path d="M347.19 374.26 L349.81 378.98 L344.56 378.98Z" fill="#b01818"/><path d="M346.73 375.57 L349.36 380.3 L344.11 380.3Z" fill="#b01818"/><path d="M331.8 375.93 L334.42 380.65 L329.17 380.65Z" fill="#b01818"/><path d="M341.03 378.64 L343.65 383.36 L338.4 383.36Z" fill="#b01818"/><path d="M333.41 369.71 L336.03 374.44 L330.78 374.44Z" fill="#b01818"/><path d="M340.91 378.15 L343.54 382.87 L338.29 382.87Z" fill="#b01818"/><path d="M344.11 379.53 L346.74 384.25 L341.49 384.25Z" fill="#b01818"/><path d="M340.58 379.89 L343.21 384.61 L337.96 384.61Z" fill="#b01818"/><path d="M341.42 375.78 L344.04 380.5 L338.79 380.5Z" fill="#b01818"/><path d="M348.48 368.9 L351.1 373.62 L345.85 373.62Z" fill="#b01818"/><path d="M345.03 369.74 L347.65 374.47 L342.4 374.47Z" fill="#b01818"/><path d="M341.99 379.79 L344.61 384.51 L339.36 384.51Z" fill="#b01818"/><path d="M345.1 367.08 L347.72 371.8 L342.47 371.8Z" fill="#b01818"/><path d="M334.11 375.29 L336.74 380.02 L331.49 380.02Z" fill="#b01818"/><path d="M339.66 365.62 L342.29 370.35 L337.04 370.35Z" fill="#b01818"/><path d="M340.8 365.36 L343.42 370.08 L338.17 370.08Z" fill="#b01818"/><path d="M339.82 372.77 L342.45 377.5 L337.2 377.5Z" fill="#b01818"/><path d="M342.67 371.26 L345.29 375.98 L340.04 375.98Z" fill="#b01818"/><line x1="331" y1="373" x2="348" y2="373" stroke="#fff" stroke-width="0.8" opacity="0.85"/><line x1="332" y1="379" x2="346" y2="379" stroke="#fff" stroke-width="0.8" opacity="0.85"/>
<path d="M339.5 366 L339.5 371 M329 371.5 L350.5 371.5" stroke="#b01818" stroke-width="1.3" fill="none"/>
<path d="M376.52 359 L379.04 361.52 L376.52 364.04 L374 361.52Z" fill="#f26c10"/><path d="M370.59 358.6 L373.11 361.12 L370.59 363.64 L368.07 361.12Z" fill="#f26c10"/><path d="M372.47 354.99 L374.99 357.51 L372.47 360.03 L369.95 357.51Z" fill="#f26c10"/><path d="M367.83 354.24 L370.35 356.76 L367.83 359.28 L365.31 356.76Z" fill="#f26c10"/><path d="M372.48 350.17 L375 352.69 L372.48 355.21 L369.96 352.69Z" fill="#f26c10"/><path d="M372.67 350.52 L375.19 353.04 L372.67 355.56 L370.15 353.04Z" fill="#f26c10"/><path d="M365.85 348.16 L368.37 350.68 L365.85 353.2 L363.33 350.68Z" fill="#f26c10"/><path d="M372.77 356.41 L375.29 358.93 L372.77 361.45 L370.25 358.93Z" fill="#f26c10"/><path d="M377.15 354.03 L379.67 356.55 L377.15 359.07 L374.63 356.55Z" fill="#f26c10"/><path d="M365.68 352.18 L368.2 354.7 L365.68 357.22 L363.16 354.7Z" fill="#f26c10"/><path d="M374.24 357.29 L376.76 359.81 L374.24 362.33 L371.72 359.81Z" fill="#f26c10"/><path d="M374.85 355.78 L377.37 358.3 L374.85 360.82 L372.33 358.3Z" fill="#f26c10"/><path d="M372.63 359.55 L375.15 362.07 L372.63 364.59 L370.11 362.07Z" fill="#f26c10"/><path d="M372.38 357.01 L374.9 359.53 L372.38 362.05 L369.86 359.53Z" fill="#f26c10"/><path d="M375.79 354.75 L378.31 357.27 L375.79 359.79 L373.27 357.27Z" fill="#f26c10"/><path d="M365.93 351.65 L368.45 354.17 L365.93 356.69 L363.41 354.17Z" fill="#f26c10"/><path d="M377.01 353.57 L379.53 356.09 L377.01 358.61 L374.49 356.09Z" fill="#f26c10"/><path d="M372.79 354.97 L375.31 357.49 L372.79 360.01 L370.27 357.49Z" fill="#f26c10"/><path d="M369.77 355.59 L372.29 358.11 L369.77 360.63 L367.25 358.11Z" fill="#f26c10"/><path d="M370.24 350.01 L372.76 352.53 L370.24 355.05 L367.72 352.53Z" fill="#f26c10"/><path d="M371.11 357.68 L373.63 360.2 L371.11 362.72 L368.59 360.2Z" fill="#f26c10"/><path d="M366.09 349.24 L368.61 351.76 L366.09 354.28 L363.57 351.76Z" fill="#f26c10"/><line x1="366" y1="353" x2="381" y2="353" stroke="#fff" stroke-width="0.8" opacity="0.85"/>
<line x1="366" y1="361" x2="381" y2="361" stroke="#f26c10" stroke-width="2"/>
<path d="M339.1 345.8 V342.3 H376.8 V345.8" fill="none" stroke="#000" stroke-width="1.6"/>
<text x="358.2" y="343" font-size="13" text-anchor="middle" style="stroke-width:0">*</text>
</svg>
</body></html>
